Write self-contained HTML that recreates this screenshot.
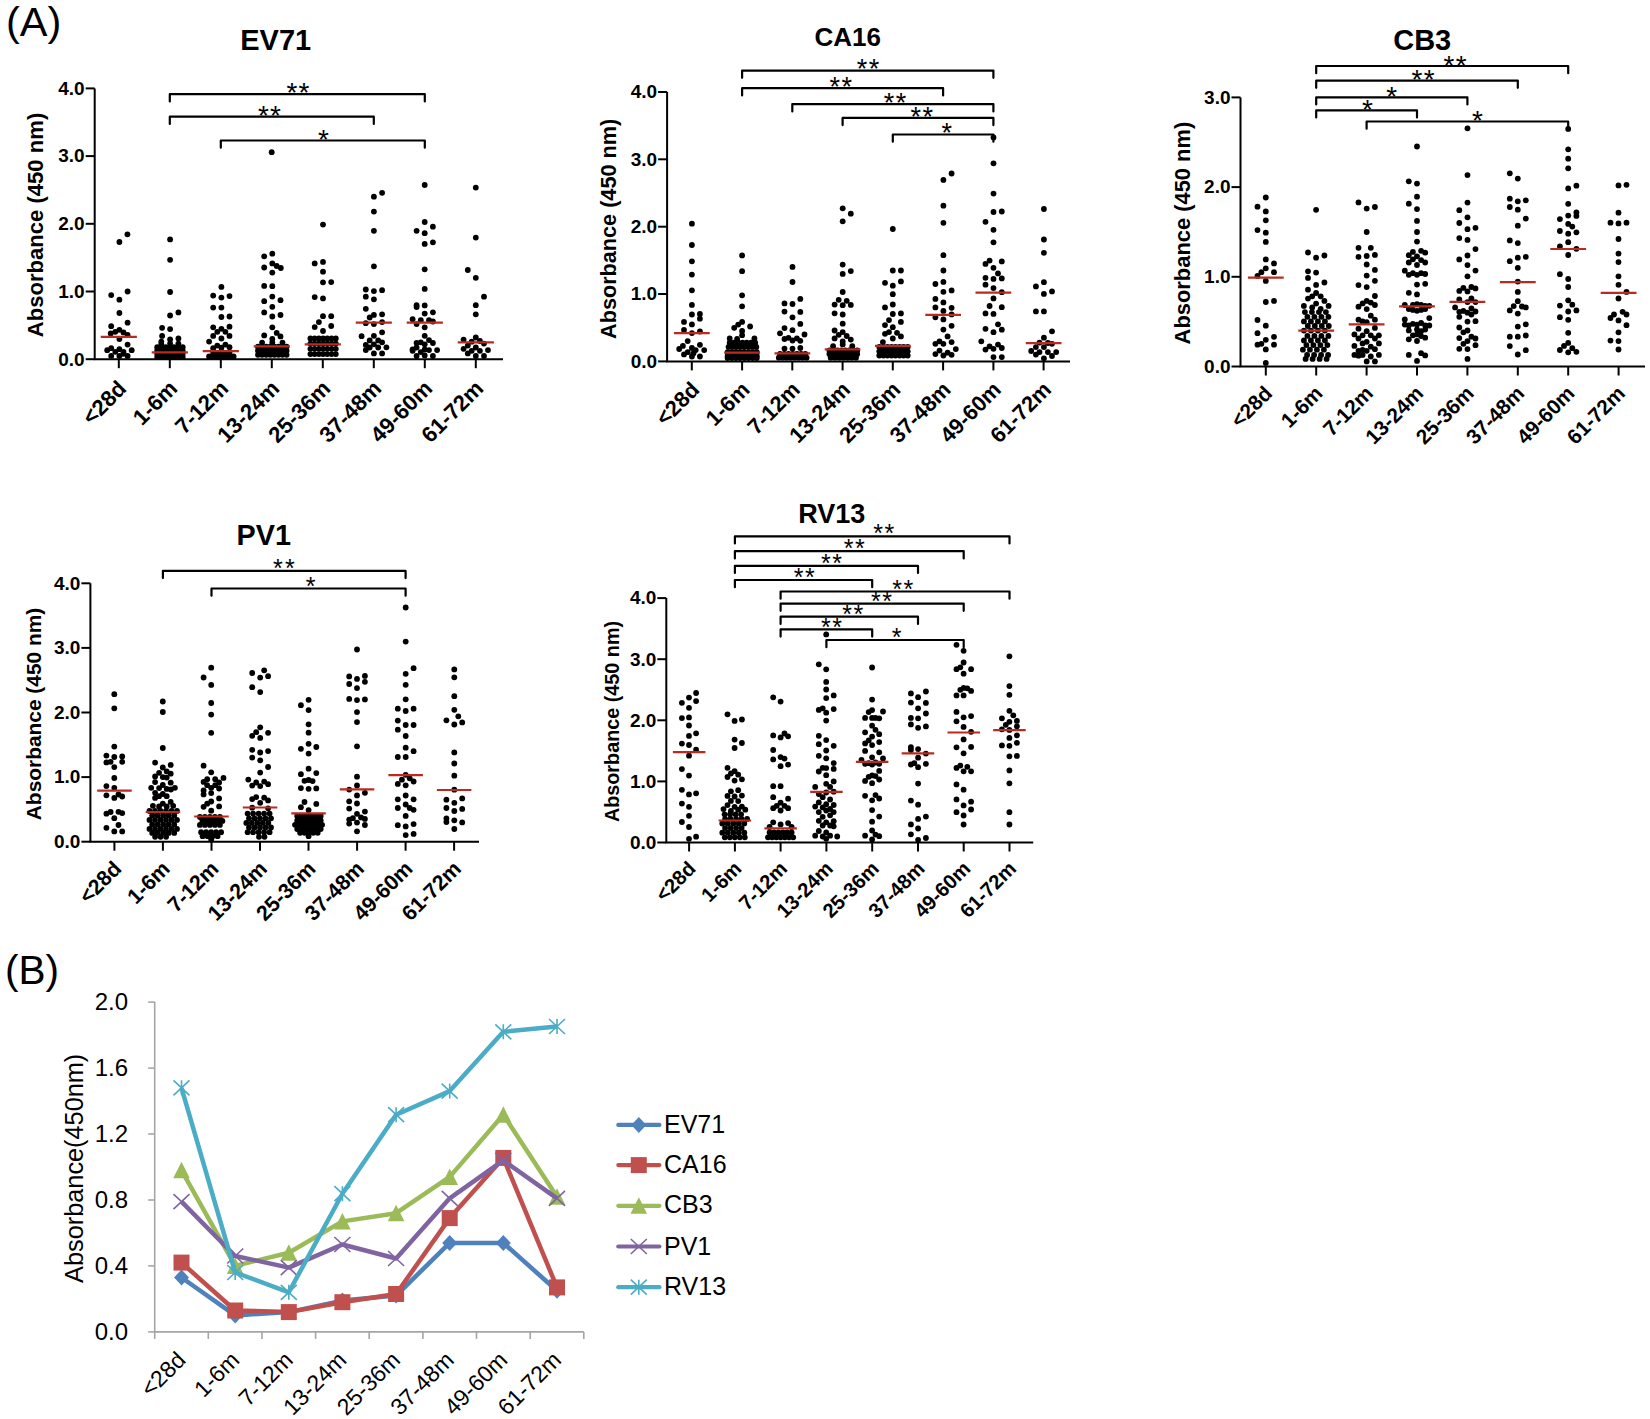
<!DOCTYPE html><html><head><meta charset="utf-8"><style>html,body{margin:0;padding:0;background:#fff;}svg{display:block}</style></head><body>
<svg width="1650" height="1419" viewBox="0 0 1650 1419">
<rect width="100%" height="100%" fill="#fff"/>
<text x="6" y="36" font-family="Liberation Sans, Arial, sans-serif" font-size="41.5">(A)</text>
<g><text x="275.75" y="49.8" font-family="Liberation Sans, Arial, sans-serif" font-weight="bold" font-size="29" text-anchor="middle">EV71</text><path d="M94.7 88.4V359.2H503" fill="none" stroke="#000" stroke-width="2"/><path d="M85.7 359.2H94.7" stroke="#000" stroke-width="2"/><text x="84.7" y="365.5" font-family="Liberation Sans, Arial, sans-serif" font-weight="bold" font-size="19" text-anchor="end">0.0</text><path d="M85.7 291.5H94.7" stroke="#000" stroke-width="2"/><text x="84.7" y="297.8" font-family="Liberation Sans, Arial, sans-serif" font-weight="bold" font-size="19" text-anchor="end">1.0</text><path d="M85.7 223.8H94.7" stroke="#000" stroke-width="2"/><text x="84.7" y="230.1" font-family="Liberation Sans, Arial, sans-serif" font-weight="bold" font-size="19" text-anchor="end">2.0</text><path d="M85.7 156.1H94.7" stroke="#000" stroke-width="2"/><text x="84.7" y="162.4" font-family="Liberation Sans, Arial, sans-serif" font-weight="bold" font-size="19" text-anchor="end">3.0</text><path d="M85.7 88.4H94.7" stroke="#000" stroke-width="2"/><text x="84.7" y="94.7" font-family="Liberation Sans, Arial, sans-serif" font-weight="bold" font-size="19" text-anchor="end">4.0</text><path d="M118.8 359.2v9" stroke="#000" stroke-width="2"/><text transform="translate(127.7,389.9) rotate(-45)" font-family="Liberation Sans, Arial, sans-serif" font-weight="bold" font-size="22.2" text-anchor="end">&lt;28d</text><path d="M169.8 359.2v9" stroke="#000" stroke-width="2"/><text transform="translate(178.7,389.9) rotate(-45)" font-family="Liberation Sans, Arial, sans-serif" font-weight="bold" font-size="22.2" text-anchor="end">1-6m</text><path d="M220.8 359.2v9" stroke="#000" stroke-width="2"/><text transform="translate(229.7,389.9) rotate(-45)" font-family="Liberation Sans, Arial, sans-serif" font-weight="bold" font-size="22.2" text-anchor="end">7-12m</text><path d="M271.8 359.2v9" stroke="#000" stroke-width="2"/><text transform="translate(280.7,389.9) rotate(-45)" font-family="Liberation Sans, Arial, sans-serif" font-weight="bold" font-size="22.2" text-anchor="end">13-24m</text><path d="M322.8 359.2v9" stroke="#000" stroke-width="2"/><text transform="translate(331.7,389.9) rotate(-45)" font-family="Liberation Sans, Arial, sans-serif" font-weight="bold" font-size="22.2" text-anchor="end">25-36m</text><path d="M373.8 359.2v9" stroke="#000" stroke-width="2"/><text transform="translate(382.7,389.9) rotate(-45)" font-family="Liberation Sans, Arial, sans-serif" font-weight="bold" font-size="22.2" text-anchor="end">37-48m</text><path d="M424.8 359.2v9" stroke="#000" stroke-width="2"/><text transform="translate(433.7,389.9) rotate(-45)" font-family="Liberation Sans, Arial, sans-serif" font-weight="bold" font-size="22.2" text-anchor="end">49-60m</text><path d="M475.8 359.2v9" stroke="#000" stroke-width="2"/><text transform="translate(484.7,389.9) rotate(-45)" font-family="Liberation Sans, Arial, sans-serif" font-weight="bold" font-size="22.2" text-anchor="end">61-72m</text><text transform="translate(42.7,225.0) rotate(-90)" font-family="Liberation Sans, Arial, sans-serif" font-weight="bold" font-size="22.08" text-anchor="middle">Absorbance (450 nm)</text><path d="M169.8 101.4V94.2H424.8V101.4" fill="none" stroke="#000" stroke-width="2.2" stroke-linecap="round" stroke-linejoin="round"/><text x="298.6" y="102.3" font-family="Liberation Sans, Arial, sans-serif" font-size="28" letter-spacing="1.2" text-anchor="middle">**</text><path d="M169.8 123.9V116.7H373.8V123.9" fill="none" stroke="#000" stroke-width="2.2" stroke-linecap="round" stroke-linejoin="round"/><text x="270.1" y="124.8" font-family="Liberation Sans, Arial, sans-serif" font-size="28" letter-spacing="1.2" text-anchor="middle">**</text><path d="M220.8 147.7V140.5H424.8V147.7" fill="none" stroke="#000" stroke-width="2.2" stroke-linecap="round" stroke-linejoin="round"/><text x="324.0" y="148.6" font-family="Liberation Sans, Arial, sans-serif" font-size="28" letter-spacing="1.2" text-anchor="middle">*</text><g fill="#000"><circle cx="127.4" cy="234.3" r="2.9"/><circle cx="119.4" cy="242.0" r="2.9"/><circle cx="127.6" cy="291.5" r="2.9"/><circle cx="111.2" cy="295.1" r="2.9"/><circle cx="119.4" cy="299.7" r="2.9"/><circle cx="119.4" cy="313.0" r="2.9"/><circle cx="127.6" cy="322.7" r="2.9"/><circle cx="111.2" cy="326.2" r="2.9"/><circle cx="119.4" cy="329.8" r="2.9"/><circle cx="115.3" cy="331.8" r="2.9"/><circle cx="110.7" cy="333.4" r="2.9"/><circle cx="123.5" cy="332.4" r="2.9"/><circle cx="127.6" cy="334.9" r="2.9"/><circle cx="119.4" cy="339.0" r="2.9"/><circle cx="127.6" cy="344.6" r="2.9"/><circle cx="111.2" cy="348.2" r="2.9"/><circle cx="107.2" cy="350.2" r="2.9"/><circle cx="119.4" cy="349.2" r="2.9"/><circle cx="131.7" cy="350.2" r="2.9"/><circle cx="115.3" cy="351.8" r="2.9"/><circle cx="123.5" cy="351.8" r="2.9"/><circle cx="111.2" cy="355.9" r="2.9"/><circle cx="119.4" cy="355.9" r="2.9"/><circle cx="127.6" cy="355.9" r="2.9"/><circle cx="123.5" cy="353.8" r="2.9"/><circle cx="170.1" cy="239.4" r="2.9"/><circle cx="170.1" cy="259.8" r="2.9"/><circle cx="170.1" cy="292.0" r="2.9"/><circle cx="178.4" cy="312.4" r="2.9"/><circle cx="170.1" cy="315.5" r="2.9"/><circle cx="162.1" cy="327.8" r="2.9"/><circle cx="170.1" cy="329.1" r="2.9"/><circle cx="162.1" cy="335.9" r="2.9"/><circle cx="161.3" cy="341.6" r="2.9"/><circle cx="170.1" cy="339.5" r="2.9"/><circle cx="178.4" cy="338.5" r="2.9"/><circle cx="161.3" cy="344.1" r="2.9"/><circle cx="170.1" cy="343.6" r="2.9"/><circle cx="178.4" cy="343.6" r="2.9"/><circle cx="157.2" cy="347.2" r="2.9"/><circle cx="161.5" cy="347.2" r="2.9"/><circle cx="165.7" cy="347.2" r="2.9"/><circle cx="170.0" cy="347.2" r="2.9"/><circle cx="174.2" cy="347.2" r="2.9"/><circle cx="178.5" cy="347.2" r="2.9"/><circle cx="182.7" cy="347.2" r="2.9"/><circle cx="157.2" cy="350.7" r="2.9"/><circle cx="161.5" cy="350.7" r="2.9"/><circle cx="165.7" cy="350.7" r="2.9"/><circle cx="170.0" cy="350.7" r="2.9"/><circle cx="174.2" cy="350.7" r="2.9"/><circle cx="178.5" cy="350.7" r="2.9"/><circle cx="182.7" cy="350.7" r="2.9"/><circle cx="157.2" cy="353.8" r="2.9"/><circle cx="161.5" cy="353.8" r="2.9"/><circle cx="165.7" cy="353.8" r="2.9"/><circle cx="170.0" cy="353.8" r="2.9"/><circle cx="174.2" cy="353.8" r="2.9"/><circle cx="178.5" cy="353.8" r="2.9"/><circle cx="182.7" cy="353.8" r="2.9"/><circle cx="157.2" cy="356.9" r="2.9"/><circle cx="161.5" cy="356.9" r="2.9"/><circle cx="165.7" cy="356.9" r="2.9"/><circle cx="170.0" cy="356.9" r="2.9"/><circle cx="174.2" cy="356.9" r="2.9"/><circle cx="178.5" cy="356.9" r="2.9"/><circle cx="182.7" cy="356.9" r="2.9"/><circle cx="221.4" cy="286.9" r="2.9"/><circle cx="213.2" cy="295.6" r="2.9"/><circle cx="221.4" cy="297.6" r="2.9"/><circle cx="229.5" cy="296.1" r="2.9"/><circle cx="213.2" cy="307.6" r="2.9"/><circle cx="221.4" cy="307.6" r="2.9"/><circle cx="221.4" cy="317.0" r="2.9"/><circle cx="229.5" cy="316.5" r="2.9"/><circle cx="213.2" cy="327.3" r="2.9"/><circle cx="221.4" cy="328.8" r="2.9"/><circle cx="229.5" cy="326.7" r="2.9"/><circle cx="217.3" cy="331.8" r="2.9"/><circle cx="225.4" cy="331.8" r="2.9"/><circle cx="213.2" cy="335.9" r="2.9"/><circle cx="229.5" cy="335.9" r="2.9"/><circle cx="221.4" cy="338.5" r="2.9"/><circle cx="209.1" cy="341.6" r="2.9"/><circle cx="217.3" cy="345.6" r="2.9"/><circle cx="225.4" cy="344.6" r="2.9"/><circle cx="213.2" cy="348.2" r="2.9"/><circle cx="221.4" cy="347.7" r="2.9"/><circle cx="229.5" cy="347.2" r="2.9"/><circle cx="213.2" cy="352.8" r="2.9"/><circle cx="217.3" cy="352.8" r="2.9"/><circle cx="221.4" cy="352.8" r="2.9"/><circle cx="225.4" cy="352.8" r="2.9"/><circle cx="229.5" cy="352.8" r="2.9"/><circle cx="209.1" cy="356.4" r="2.9"/><circle cx="213.2" cy="356.4" r="2.9"/><circle cx="217.3" cy="356.4" r="2.9"/><circle cx="221.4" cy="356.4" r="2.9"/><circle cx="225.4" cy="356.4" r="2.9"/><circle cx="229.5" cy="356.4" r="2.9"/><circle cx="233.6" cy="356.4" r="2.9"/><circle cx="272.3" cy="253.7" r="2.9"/><circle cx="264.2" cy="256.3" r="2.9"/><circle cx="272.3" cy="263.4" r="2.9"/><circle cx="276.7" cy="266.0" r="2.9"/><circle cx="280.8" cy="268.0" r="2.9"/><circle cx="264.2" cy="267.5" r="2.9"/><circle cx="272.3" cy="272.6" r="2.9"/><circle cx="264.2" cy="285.9" r="2.9"/><circle cx="272.3" cy="286.2" r="2.9"/><circle cx="272.3" cy="296.6" r="2.9"/><circle cx="264.2" cy="301.2" r="2.9"/><circle cx="280.5" cy="300.2" r="2.9"/><circle cx="272.3" cy="306.8" r="2.9"/><circle cx="264.2" cy="312.4" r="2.9"/><circle cx="280.5" cy="315.0" r="2.9"/><circle cx="272.3" cy="316.5" r="2.9"/><circle cx="272.3" cy="327.3" r="2.9"/><circle cx="276.7" cy="332.9" r="2.9"/><circle cx="280.5" cy="336.4" r="2.9"/><circle cx="264.2" cy="335.4" r="2.9"/><circle cx="272.3" cy="339.0" r="2.9"/><circle cx="262.1" cy="342.6" r="2.9"/><circle cx="272.3" cy="342.6" r="2.9"/><circle cx="282.5" cy="342.6" r="2.9"/><circle cx="258.0" cy="346.7" r="2.9"/><circle cx="262.1" cy="346.7" r="2.9"/><circle cx="266.2" cy="346.7" r="2.9"/><circle cx="270.3" cy="346.7" r="2.9"/><circle cx="274.4" cy="346.7" r="2.9"/><circle cx="278.5" cy="346.7" r="2.9"/><circle cx="282.5" cy="346.7" r="2.9"/><circle cx="286.6" cy="346.7" r="2.9"/><circle cx="258.0" cy="350.7" r="2.9"/><circle cx="262.1" cy="350.7" r="2.9"/><circle cx="266.2" cy="350.7" r="2.9"/><circle cx="270.3" cy="350.7" r="2.9"/><circle cx="274.4" cy="350.7" r="2.9"/><circle cx="278.5" cy="350.7" r="2.9"/><circle cx="282.5" cy="350.7" r="2.9"/><circle cx="286.6" cy="350.7" r="2.9"/><circle cx="258.0" cy="354.8" r="2.9"/><circle cx="262.1" cy="354.8" r="2.9"/><circle cx="266.2" cy="354.8" r="2.9"/><circle cx="270.3" cy="354.8" r="2.9"/><circle cx="274.4" cy="354.8" r="2.9"/><circle cx="278.5" cy="354.8" r="2.9"/><circle cx="282.5" cy="354.8" r="2.9"/><circle cx="286.6" cy="354.8" r="2.9"/><circle cx="271.7" cy="152.2" r="2.9"/><circle cx="323.0" cy="224.6" r="2.9"/><circle cx="314.7" cy="263.4" r="2.9"/><circle cx="323.0" cy="261.9" r="2.9"/><circle cx="323.0" cy="271.7" r="2.9"/><circle cx="323.0" cy="282.3" r="2.9"/><circle cx="331.2" cy="282.1" r="2.9"/><circle cx="314.7" cy="297.1" r="2.9"/><circle cx="323.0" cy="298.4" r="2.9"/><circle cx="323.0" cy="316.2" r="2.9"/><circle cx="331.2" cy="316.2" r="2.9"/><circle cx="318.9" cy="322.1" r="2.9"/><circle cx="314.7" cy="327.1" r="2.9"/><circle cx="331.2" cy="326.0" r="2.9"/><circle cx="323.0" cy="331.0" r="2.9"/><circle cx="310.4" cy="338.4" r="2.9"/><circle cx="314.6" cy="338.4" r="2.9"/><circle cx="318.9" cy="338.4" r="2.9"/><circle cx="323.1" cy="338.4" r="2.9"/><circle cx="327.3" cy="338.4" r="2.9"/><circle cx="331.6" cy="338.4" r="2.9"/><circle cx="335.8" cy="338.4" r="2.9"/><circle cx="310.4" cy="343.6" r="2.9"/><circle cx="314.6" cy="343.6" r="2.9"/><circle cx="318.9" cy="343.6" r="2.9"/><circle cx="323.1" cy="343.6" r="2.9"/><circle cx="327.3" cy="343.6" r="2.9"/><circle cx="331.6" cy="343.6" r="2.9"/><circle cx="335.8" cy="343.6" r="2.9"/><circle cx="310.4" cy="348.8" r="2.9"/><circle cx="314.6" cy="348.8" r="2.9"/><circle cx="318.9" cy="348.8" r="2.9"/><circle cx="323.1" cy="348.8" r="2.9"/><circle cx="327.3" cy="348.8" r="2.9"/><circle cx="331.6" cy="348.8" r="2.9"/><circle cx="335.8" cy="348.8" r="2.9"/><circle cx="310.4" cy="354.1" r="2.9"/><circle cx="314.6" cy="354.1" r="2.9"/><circle cx="318.9" cy="354.1" r="2.9"/><circle cx="323.1" cy="354.1" r="2.9"/><circle cx="327.3" cy="354.1" r="2.9"/><circle cx="331.6" cy="354.1" r="2.9"/><circle cx="335.8" cy="354.1" r="2.9"/><circle cx="382.1" cy="192.8" r="2.9"/><circle cx="373.9" cy="196.7" r="2.9"/><circle cx="373.9" cy="211.6" r="2.9"/><circle cx="373.9" cy="230.8" r="2.9"/><circle cx="373.9" cy="266.3" r="2.9"/><circle cx="365.8" cy="289.5" r="2.9"/><circle cx="373.9" cy="291.1" r="2.9"/><circle cx="382.1" cy="290.2" r="2.9"/><circle cx="365.8" cy="296.7" r="2.9"/><circle cx="373.9" cy="299.3" r="2.9"/><circle cx="365.8" cy="308.8" r="2.9"/><circle cx="373.9" cy="314.9" r="2.9"/><circle cx="369.7" cy="317.5" r="2.9"/><circle cx="382.1" cy="314.3" r="2.9"/><circle cx="365.8" cy="323.2" r="2.9"/><circle cx="373.9" cy="324.1" r="2.9"/><circle cx="382.1" cy="322.1" r="2.9"/><circle cx="382.1" cy="332.3" r="2.9"/><circle cx="361.6" cy="336.2" r="2.9"/><circle cx="373.9" cy="335.8" r="2.9"/><circle cx="369.7" cy="340.4" r="2.9"/><circle cx="378.2" cy="340.4" r="2.9"/><circle cx="382.1" cy="342.3" r="2.9"/><circle cx="365.8" cy="344.9" r="2.9"/><circle cx="373.9" cy="344.3" r="2.9"/><circle cx="386.4" cy="347.3" r="2.9"/><circle cx="378.2" cy="347.5" r="2.9"/><circle cx="369.7" cy="347.5" r="2.9"/><circle cx="365.8" cy="350.1" r="2.9"/><circle cx="373.9" cy="353.4" r="2.9"/><circle cx="382.1" cy="353.4" r="2.9"/><circle cx="424.7" cy="185.0" r="2.9"/><circle cx="424.7" cy="222.0" r="2.9"/><circle cx="432.9" cy="226.7" r="2.9"/><circle cx="416.6" cy="230.8" r="2.9"/><circle cx="424.7" cy="233.2" r="2.9"/><circle cx="424.7" cy="243.9" r="2.9"/><circle cx="432.9" cy="242.3" r="2.9"/><circle cx="424.7" cy="269.3" r="2.9"/><circle cx="424.7" cy="288.9" r="2.9"/><circle cx="416.6" cy="305.2" r="2.9"/><circle cx="416.6" cy="307.1" r="2.9"/><circle cx="424.7" cy="305.4" r="2.9"/><circle cx="424.7" cy="313.6" r="2.9"/><circle cx="432.9" cy="312.3" r="2.9"/><circle cx="412.6" cy="319.2" r="2.9"/><circle cx="420.8" cy="320.2" r="2.9"/><circle cx="429.0" cy="320.2" r="2.9"/><circle cx="416.6" cy="324.1" r="2.9"/><circle cx="432.9" cy="321.5" r="2.9"/><circle cx="424.7" cy="327.3" r="2.9"/><circle cx="424.7" cy="335.8" r="2.9"/><circle cx="416.6" cy="343.0" r="2.9"/><circle cx="420.8" cy="342.3" r="2.9"/><circle cx="429.0" cy="340.1" r="2.9"/><circle cx="432.9" cy="343.0" r="2.9"/><circle cx="424.7" cy="344.3" r="2.9"/><circle cx="412.6" cy="349.5" r="2.9"/><circle cx="416.6" cy="347.5" r="2.9"/><circle cx="424.7" cy="349.5" r="2.9"/><circle cx="429.0" cy="350.1" r="2.9"/><circle cx="437.1" cy="350.1" r="2.9"/><circle cx="416.6" cy="356.0" r="2.9"/><circle cx="424.7" cy="355.4" r="2.9"/><circle cx="432.9" cy="356.0" r="2.9"/><circle cx="420.8" cy="352.1" r="2.9"/><circle cx="412.6" cy="350.8" r="2.9"/><circle cx="475.8" cy="187.6" r="2.9"/><circle cx="475.8" cy="237.6" r="2.9"/><circle cx="467.8" cy="270.0" r="2.9"/><circle cx="475.8" cy="277.8" r="2.9"/><circle cx="484.0" cy="296.7" r="2.9"/><circle cx="475.8" cy="305.2" r="2.9"/><circle cx="475.8" cy="314.3" r="2.9"/><circle cx="463.6" cy="339.7" r="2.9"/><circle cx="475.8" cy="337.5" r="2.9"/><circle cx="471.7" cy="341.7" r="2.9"/><circle cx="479.9" cy="341.0" r="2.9"/><circle cx="484.0" cy="343.6" r="2.9"/><circle cx="467.8" cy="345.6" r="2.9"/><circle cx="463.6" cy="348.8" r="2.9"/><circle cx="475.8" cy="347.5" r="2.9"/><circle cx="479.9" cy="350.8" r="2.9"/><circle cx="488.0" cy="350.1" r="2.9"/><circle cx="467.8" cy="353.4" r="2.9"/><circle cx="475.8" cy="356.0" r="2.9"/><circle cx="484.0" cy="356.0" r="2.9"/><circle cx="471.7" cy="350.8" r="2.9"/></g><path d="M100.7 336.9h36.2" stroke="#bb2a20" stroke-width="2.2"/><path d="M151.7 352.4h36.2" stroke="#bb2a20" stroke-width="2.2"/><path d="M202.7 351.1h36.2" stroke="#bb2a20" stroke-width="2.2"/><path d="M253.7 346.3h36.2" stroke="#bb2a20" stroke-width="2.2"/><path d="M304.7 344.3h36.2" stroke="#bb2a20" stroke-width="2.2"/><path d="M355.7 322.6h36.2" stroke="#bb2a20" stroke-width="2.2"/><path d="M406.7 322.6h36.2" stroke="#bb2a20" stroke-width="2.2"/><path d="M457.7 342.3h36.2" stroke="#bb2a20" stroke-width="2.2"/></g>
<g><text x="847.7" y="46" font-family="Liberation Sans, Arial, sans-serif" font-weight="bold" font-size="26" text-anchor="middle">CA16</text><path d="M667.1 92.0V361.4H1070" fill="none" stroke="#000" stroke-width="2"/><path d="M658.1 361.4H667.1" stroke="#000" stroke-width="2"/><text x="657.1" y="367.7" font-family="Liberation Sans, Arial, sans-serif" font-weight="bold" font-size="19" text-anchor="end">0.0</text><path d="M658.1 294.0H667.1" stroke="#000" stroke-width="2"/><text x="657.1" y="300.3" font-family="Liberation Sans, Arial, sans-serif" font-weight="bold" font-size="19" text-anchor="end">1.0</text><path d="M658.1 226.7H667.1" stroke="#000" stroke-width="2"/><text x="657.1" y="233.0" font-family="Liberation Sans, Arial, sans-serif" font-weight="bold" font-size="19" text-anchor="end">2.0</text><path d="M658.1 159.3H667.1" stroke="#000" stroke-width="2"/><text x="657.1" y="165.7" font-family="Liberation Sans, Arial, sans-serif" font-weight="bold" font-size="19" text-anchor="end">3.0</text><path d="M658.1 92.0H667.1" stroke="#000" stroke-width="2"/><text x="657.1" y="98.3" font-family="Liberation Sans, Arial, sans-serif" font-weight="bold" font-size="19" text-anchor="end">4.0</text><path d="M691.8 361.4v9" stroke="#000" stroke-width="2"/><text transform="translate(700.7,391.0) rotate(-45)" font-family="Liberation Sans, Arial, sans-serif" font-weight="bold" font-size="21.9" text-anchor="end">&lt;28d</text><path d="M742.1 361.4v9" stroke="#000" stroke-width="2"/><text transform="translate(751.0,391.0) rotate(-45)" font-family="Liberation Sans, Arial, sans-serif" font-weight="bold" font-size="21.9" text-anchor="end">1-6m</text><path d="M792.3 361.4v9" stroke="#000" stroke-width="2"/><text transform="translate(801.2,391.0) rotate(-45)" font-family="Liberation Sans, Arial, sans-serif" font-weight="bold" font-size="21.9" text-anchor="end">7-12m</text><path d="M842.6 361.4v9" stroke="#000" stroke-width="2"/><text transform="translate(851.5,391.0) rotate(-45)" font-family="Liberation Sans, Arial, sans-serif" font-weight="bold" font-size="21.9" text-anchor="end">13-24m</text><path d="M892.8 361.4v9" stroke="#000" stroke-width="2"/><text transform="translate(901.7,391.0) rotate(-45)" font-family="Liberation Sans, Arial, sans-serif" font-weight="bold" font-size="21.9" text-anchor="end">25-36m</text><path d="M943.1 361.4v9" stroke="#000" stroke-width="2"/><text transform="translate(952.0,391.0) rotate(-45)" font-family="Liberation Sans, Arial, sans-serif" font-weight="bold" font-size="21.9" text-anchor="end">37-48m</text><path d="M993.4 361.4v9" stroke="#000" stroke-width="2"/><text transform="translate(1002.3,391.0) rotate(-45)" font-family="Liberation Sans, Arial, sans-serif" font-weight="bold" font-size="21.9" text-anchor="end">49-60m</text><path d="M1043.6 361.4v9" stroke="#000" stroke-width="2"/><text transform="translate(1052.5,391.0) rotate(-45)" font-family="Liberation Sans, Arial, sans-serif" font-weight="bold" font-size="21.9" text-anchor="end">61-72m</text><text transform="translate(616.3,228.9) rotate(-90)" font-family="Liberation Sans, Arial, sans-serif" font-weight="bold" font-size="21.65" text-anchor="middle">Absorbance (450 nm)</text><path d="M742.1 77.8V70.6H993.4V77.8" fill="none" stroke="#000" stroke-width="2.2" stroke-linecap="round" stroke-linejoin="round"/><text x="868.8" y="78.4" font-family="Liberation Sans, Arial, sans-serif" font-size="27" letter-spacing="1.5" text-anchor="middle">**</text><path d="M742.1 95.4V88.2H943.1V95.4" fill="none" stroke="#000" stroke-width="2.2" stroke-linecap="round" stroke-linejoin="round"/><text x="841.4" y="96.0" font-family="Liberation Sans, Arial, sans-serif" font-size="27" letter-spacing="1.5" text-anchor="middle">**</text><path d="M792.3 111.4V104.2H993.4V111.4" fill="none" stroke="#000" stroke-width="2.2" stroke-linecap="round" stroke-linejoin="round"/><text x="895.8" y="112.0" font-family="Liberation Sans, Arial, sans-serif" font-size="27" letter-spacing="1.5" text-anchor="middle">**</text><path d="M842.6 125.1V117.9H993.4V125.1" fill="none" stroke="#000" stroke-width="2.2" stroke-linecap="round" stroke-linejoin="round"/><text x="922.5" y="125.7" font-family="Liberation Sans, Arial, sans-serif" font-size="27" letter-spacing="1.5" text-anchor="middle">**</text><path d="M892.8 141.7V134.5H993.4V141.7" fill="none" stroke="#000" stroke-width="2.2" stroke-linecap="round" stroke-linejoin="round"/><text x="947.5" y="142.3" font-family="Liberation Sans, Arial, sans-serif" font-size="27" letter-spacing="1.5" text-anchor="middle">*</text><g fill="#000"><circle cx="691.9" cy="223.7" r="2.9"/><circle cx="691.9" cy="245.0" r="2.9"/><circle cx="691.9" cy="261.3" r="2.9"/><circle cx="691.9" cy="274.6" r="2.9"/><circle cx="691.9" cy="290.3" r="2.9"/><circle cx="691.9" cy="304.9" r="2.9"/><circle cx="691.9" cy="314.5" r="2.9"/><circle cx="699.9" cy="313.9" r="2.9"/><circle cx="699.9" cy="318.7" r="2.9"/><circle cx="684.0" cy="321.9" r="2.9"/><circle cx="691.9" cy="324.4" r="2.9"/><circle cx="684.0" cy="329.9" r="2.9"/><circle cx="691.9" cy="333.1" r="2.9"/><circle cx="699.9" cy="331.5" r="2.9"/><circle cx="687.7" cy="341.1" r="2.9"/><circle cx="699.9" cy="344.8" r="2.9"/><circle cx="682.9" cy="345.9" r="2.9"/><circle cx="679.2" cy="349.0" r="2.9"/><circle cx="691.9" cy="348.0" r="2.9"/><circle cx="695.7" cy="350.1" r="2.9"/><circle cx="704.2" cy="350.1" r="2.9"/><circle cx="684.0" cy="354.4" r="2.9"/><circle cx="691.9" cy="356.5" r="2.9"/><circle cx="699.9" cy="356.5" r="2.9"/><circle cx="687.7" cy="352.2" r="2.9"/><circle cx="693.5" cy="353.3" r="2.9"/><circle cx="742.1" cy="255.4" r="2.9"/><circle cx="742.1" cy="271.2" r="2.9"/><circle cx="742.1" cy="295.3" r="2.9"/><circle cx="742.1" cy="306.3" r="2.9"/><circle cx="742.1" cy="321.9" r="2.9"/><circle cx="738.2" cy="324.6" r="2.9"/><circle cx="734.2" cy="327.8" r="2.9"/><circle cx="750.1" cy="326.5" r="2.9"/><circle cx="742.1" cy="331.0" r="2.9"/><circle cx="742.1" cy="335.2" r="2.9"/><circle cx="729.7" cy="338.4" r="2.9"/><circle cx="754.4" cy="338.4" r="2.9"/><circle cx="737.1" cy="338.9" r="2.9"/><circle cx="729.7" cy="342.7" r="2.9"/><circle cx="734.0" cy="342.7" r="2.9"/><circle cx="738.2" cy="342.7" r="2.9"/><circle cx="742.5" cy="342.7" r="2.9"/><circle cx="746.7" cy="342.7" r="2.9"/><circle cx="751.0" cy="342.7" r="2.9"/><circle cx="755.2" cy="342.7" r="2.9"/><circle cx="728.6" cy="346.9" r="2.9"/><circle cx="732.6" cy="346.9" r="2.9"/><circle cx="736.5" cy="346.9" r="2.9"/><circle cx="740.5" cy="346.9" r="2.9"/><circle cx="744.4" cy="346.9" r="2.9"/><circle cx="748.4" cy="346.9" r="2.9"/><circle cx="752.3" cy="346.9" r="2.9"/><circle cx="756.3" cy="346.9" r="2.9"/><circle cx="727.6" cy="352.2" r="2.9"/><circle cx="731.8" cy="352.2" r="2.9"/><circle cx="735.9" cy="352.2" r="2.9"/><circle cx="740.1" cy="352.2" r="2.9"/><circle cx="744.3" cy="352.2" r="2.9"/><circle cx="748.5" cy="352.2" r="2.9"/><circle cx="752.7" cy="352.2" r="2.9"/><circle cx="756.8" cy="352.2" r="2.9"/><circle cx="727.6" cy="356.0" r="2.9"/><circle cx="731.8" cy="356.0" r="2.9"/><circle cx="735.9" cy="356.0" r="2.9"/><circle cx="740.1" cy="356.0" r="2.9"/><circle cx="744.3" cy="356.0" r="2.9"/><circle cx="748.5" cy="356.0" r="2.9"/><circle cx="752.7" cy="356.0" r="2.9"/><circle cx="756.8" cy="356.0" r="2.9"/><circle cx="727.6" cy="358.1" r="2.9"/><circle cx="731.8" cy="358.1" r="2.9"/><circle cx="735.9" cy="358.1" r="2.9"/><circle cx="740.1" cy="358.1" r="2.9"/><circle cx="744.3" cy="358.1" r="2.9"/><circle cx="748.5" cy="358.1" r="2.9"/><circle cx="752.7" cy="358.1" r="2.9"/><circle cx="756.8" cy="358.1" r="2.9"/><circle cx="792.5" cy="266.9" r="2.9"/><circle cx="792.5" cy="282.0" r="2.9"/><circle cx="800.3" cy="298.9" r="2.9"/><circle cx="784.5" cy="303.4" r="2.9"/><circle cx="792.5" cy="304.0" r="2.9"/><circle cx="784.5" cy="311.6" r="2.9"/><circle cx="800.3" cy="311.9" r="2.9"/><circle cx="792.5" cy="317.3" r="2.9"/><circle cx="800.3" cy="323.9" r="2.9"/><circle cx="784.5" cy="328.1" r="2.9"/><circle cx="792.5" cy="330.2" r="2.9"/><circle cx="780.0" cy="333.3" r="2.9"/><circle cx="804.5" cy="334.5" r="2.9"/><circle cx="784.5" cy="339.0" r="2.9"/><circle cx="788.5" cy="337.8" r="2.9"/><circle cx="792.5" cy="340.5" r="2.9"/><circle cx="796.9" cy="338.4" r="2.9"/><circle cx="800.3" cy="340.8" r="2.9"/><circle cx="784.5" cy="348.6" r="2.9"/><circle cx="792.5" cy="348.6" r="2.9"/><circle cx="800.3" cy="348.0" r="2.9"/><circle cx="780.0" cy="354.0" r="2.9"/><circle cx="784.3" cy="354.0" r="2.9"/><circle cx="788.5" cy="354.0" r="2.9"/><circle cx="792.7" cy="354.0" r="2.9"/><circle cx="796.9" cy="354.0" r="2.9"/><circle cx="801.1" cy="354.0" r="2.9"/><circle cx="805.3" cy="354.0" r="2.9"/><circle cx="778.8" cy="357.7" r="2.9"/><circle cx="782.8" cy="357.7" r="2.9"/><circle cx="786.8" cy="357.7" r="2.9"/><circle cx="790.7" cy="357.7" r="2.9"/><circle cx="794.7" cy="357.7" r="2.9"/><circle cx="798.6" cy="357.7" r="2.9"/><circle cx="802.6" cy="357.7" r="2.9"/><circle cx="806.6" cy="357.7" r="2.9"/><circle cx="842.7" cy="208.3" r="2.9"/><circle cx="850.8" cy="213.7" r="2.9"/><circle cx="842.7" cy="221.3" r="2.9"/><circle cx="842.7" cy="264.6" r="2.9"/><circle cx="850.8" cy="271.1" r="2.9"/><circle cx="842.7" cy="273.9" r="2.9"/><circle cx="842.7" cy="292.0" r="2.9"/><circle cx="838.7" cy="299.8" r="2.9"/><circle cx="846.7" cy="300.8" r="2.9"/><circle cx="834.6" cy="304.6" r="2.9"/><circle cx="842.7" cy="305.2" r="2.9"/><circle cx="850.8" cy="304.9" r="2.9"/><circle cx="834.6" cy="313.3" r="2.9"/><circle cx="842.7" cy="314.5" r="2.9"/><circle cx="842.7" cy="323.7" r="2.9"/><circle cx="834.6" cy="330.5" r="2.9"/><circle cx="842.7" cy="332.1" r="2.9"/><circle cx="838.7" cy="334.8" r="2.9"/><circle cx="846.7" cy="336.0" r="2.9"/><circle cx="834.6" cy="338.4" r="2.9"/><circle cx="850.8" cy="339.6" r="2.9"/><circle cx="842.7" cy="341.4" r="2.9"/><circle cx="842.7" cy="344.4" r="2.9"/><circle cx="833.1" cy="346.2" r="2.9"/><circle cx="852.3" cy="346.2" r="2.9"/><circle cx="829.4" cy="350.4" r="2.9"/><circle cx="833.4" cy="350.4" r="2.9"/><circle cx="837.4" cy="350.4" r="2.9"/><circle cx="841.3" cy="350.4" r="2.9"/><circle cx="845.3" cy="350.4" r="2.9"/><circle cx="849.2" cy="350.4" r="2.9"/><circle cx="853.2" cy="350.4" r="2.9"/><circle cx="857.2" cy="350.4" r="2.9"/><circle cx="829.4" cy="354.0" r="2.9"/><circle cx="833.4" cy="354.0" r="2.9"/><circle cx="837.4" cy="354.0" r="2.9"/><circle cx="841.3" cy="354.0" r="2.9"/><circle cx="845.3" cy="354.0" r="2.9"/><circle cx="849.2" cy="354.0" r="2.9"/><circle cx="853.2" cy="354.0" r="2.9"/><circle cx="857.2" cy="354.0" r="2.9"/><circle cx="830.7" cy="357.7" r="2.9"/><circle cx="834.9" cy="357.7" r="2.9"/><circle cx="839.1" cy="357.7" r="2.9"/><circle cx="843.3" cy="357.7" r="2.9"/><circle cx="847.5" cy="357.7" r="2.9"/><circle cx="851.7" cy="357.7" r="2.9"/><circle cx="856.0" cy="357.7" r="2.9"/><circle cx="892.8" cy="229.0" r="2.9"/><circle cx="892.8" cy="270.5" r="2.9"/><circle cx="900.9" cy="270.5" r="2.9"/><circle cx="885.0" cy="282.8" r="2.9"/><circle cx="892.8" cy="285.7" r="2.9"/><circle cx="900.9" cy="281.4" r="2.9"/><circle cx="892.8" cy="294.2" r="2.9"/><circle cx="892.8" cy="304.5" r="2.9"/><circle cx="885.0" cy="307.4" r="2.9"/><circle cx="892.8" cy="314.0" r="2.9"/><circle cx="900.9" cy="313.4" r="2.9"/><circle cx="889.0" cy="320.1" r="2.9"/><circle cx="885.0" cy="325.1" r="2.9"/><circle cx="900.9" cy="321.9" r="2.9"/><circle cx="892.8" cy="327.2" r="2.9"/><circle cx="885.0" cy="333.8" r="2.9"/><circle cx="889.0" cy="332.1" r="2.9"/><circle cx="897.0" cy="332.8" r="2.9"/><circle cx="900.9" cy="336.4" r="2.9"/><circle cx="892.8" cy="338.5" r="2.9"/><circle cx="882.9" cy="342.1" r="2.9"/><circle cx="879.3" cy="347.0" r="2.9"/><circle cx="883.4" cy="347.0" r="2.9"/><circle cx="887.4" cy="347.0" r="2.9"/><circle cx="891.5" cy="347.0" r="2.9"/><circle cx="895.5" cy="347.0" r="2.9"/><circle cx="899.6" cy="347.0" r="2.9"/><circle cx="903.6" cy="347.0" r="2.9"/><circle cx="907.7" cy="347.0" r="2.9"/><circle cx="879.3" cy="351.3" r="2.9"/><circle cx="883.4" cy="351.3" r="2.9"/><circle cx="887.4" cy="351.3" r="2.9"/><circle cx="891.5" cy="351.3" r="2.9"/><circle cx="895.5" cy="351.3" r="2.9"/><circle cx="899.6" cy="351.3" r="2.9"/><circle cx="903.6" cy="351.3" r="2.9"/><circle cx="907.7" cy="351.3" r="2.9"/><circle cx="879.3" cy="355.5" r="2.9"/><circle cx="883.4" cy="355.5" r="2.9"/><circle cx="887.4" cy="355.5" r="2.9"/><circle cx="891.5" cy="355.5" r="2.9"/><circle cx="895.5" cy="355.5" r="2.9"/><circle cx="899.6" cy="355.5" r="2.9"/><circle cx="903.6" cy="355.5" r="2.9"/><circle cx="907.7" cy="355.5" r="2.9"/><circle cx="951.6" cy="173.5" r="2.9"/><circle cx="943.4" cy="179.9" r="2.9"/><circle cx="943.4" cy="205.7" r="2.9"/><circle cx="943.4" cy="222.8" r="2.9"/><circle cx="943.4" cy="255.2" r="2.9"/><circle cx="943.4" cy="270.5" r="2.9"/><circle cx="935.4" cy="284.0" r="2.9"/><circle cx="943.4" cy="281.9" r="2.9"/><circle cx="951.6" cy="290.4" r="2.9"/><circle cx="943.4" cy="291.8" r="2.9"/><circle cx="935.4" cy="298.9" r="2.9"/><circle cx="943.4" cy="302.4" r="2.9"/><circle cx="935.4" cy="307.4" r="2.9"/><circle cx="943.4" cy="310.9" r="2.9"/><circle cx="951.6" cy="307.8" r="2.9"/><circle cx="935.4" cy="317.3" r="2.9"/><circle cx="943.4" cy="319.4" r="2.9"/><circle cx="951.6" cy="314.4" r="2.9"/><circle cx="951.6" cy="325.8" r="2.9"/><circle cx="943.4" cy="329.6" r="2.9"/><circle cx="947.6" cy="336.4" r="2.9"/><circle cx="951.6" cy="342.1" r="2.9"/><circle cx="935.4" cy="343.8" r="2.9"/><circle cx="939.5" cy="341.3" r="2.9"/><circle cx="943.4" cy="343.8" r="2.9"/><circle cx="955.8" cy="349.1" r="2.9"/><circle cx="939.5" cy="350.6" r="2.9"/><circle cx="935.4" cy="354.1" r="2.9"/><circle cx="943.4" cy="355.5" r="2.9"/><circle cx="947.6" cy="352.7" r="2.9"/><circle cx="951.6" cy="354.8" r="2.9"/><circle cx="993.5" cy="137.5" r="2.9"/><circle cx="993.5" cy="163.3" r="2.9"/><circle cx="993.5" cy="193.6" r="2.9"/><circle cx="993.5" cy="212.0" r="2.9"/><circle cx="1001.8" cy="211.5" r="2.9"/><circle cx="985.5" cy="221.8" r="2.9"/><circle cx="993.5" cy="229.8" r="2.9"/><circle cx="993.5" cy="242.3" r="2.9"/><circle cx="989.6" cy="260.6" r="2.9"/><circle cx="985.5" cy="263.9" r="2.9"/><circle cx="1001.8" cy="261.4" r="2.9"/><circle cx="993.5" cy="267.8" r="2.9"/><circle cx="998.0" cy="273.4" r="2.9"/><circle cx="985.5" cy="277.8" r="2.9"/><circle cx="993.5" cy="278.9" r="2.9"/><circle cx="1001.8" cy="278.4" r="2.9"/><circle cx="985.5" cy="284.7" r="2.9"/><circle cx="993.5" cy="288.1" r="2.9"/><circle cx="1001.8" cy="292.2" r="2.9"/><circle cx="993.5" cy="298.4" r="2.9"/><circle cx="989.6" cy="306.0" r="2.9"/><circle cx="1001.8" cy="307.2" r="2.9"/><circle cx="985.5" cy="313.4" r="2.9"/><circle cx="993.5" cy="313.9" r="2.9"/><circle cx="998.0" cy="324.3" r="2.9"/><circle cx="985.5" cy="328.8" r="2.9"/><circle cx="1001.8" cy="329.7" r="2.9"/><circle cx="993.5" cy="332.2" r="2.9"/><circle cx="981.3" cy="341.3" r="2.9"/><circle cx="989.6" cy="346.3" r="2.9"/><circle cx="985.5" cy="349.6" r="2.9"/><circle cx="993.5" cy="348.8" r="2.9"/><circle cx="998.0" cy="344.6" r="2.9"/><circle cx="1001.8" cy="348.0" r="2.9"/><circle cx="993.5" cy="357.1" r="2.9"/><circle cx="1001.8" cy="357.1" r="2.9"/><circle cx="1043.9" cy="209.0" r="2.9"/><circle cx="1043.9" cy="239.5" r="2.9"/><circle cx="1043.9" cy="252.8" r="2.9"/><circle cx="1043.9" cy="282.2" r="2.9"/><circle cx="1035.9" cy="286.4" r="2.9"/><circle cx="1043.9" cy="293.9" r="2.9"/><circle cx="1052.0" cy="291.4" r="2.9"/><circle cx="1035.9" cy="311.4" r="2.9"/><circle cx="1043.9" cy="311.4" r="2.9"/><circle cx="1052.0" cy="331.3" r="2.9"/><circle cx="1043.9" cy="337.7" r="2.9"/><circle cx="1039.5" cy="342.6" r="2.9"/><circle cx="1047.9" cy="343.0" r="2.9"/><circle cx="1035.9" cy="347.1" r="2.9"/><circle cx="1043.9" cy="347.1" r="2.9"/><circle cx="1052.0" cy="343.8" r="2.9"/><circle cx="1031.2" cy="351.0" r="2.9"/><circle cx="1039.5" cy="352.1" r="2.9"/><circle cx="1047.9" cy="352.1" r="2.9"/><circle cx="1056.2" cy="352.1" r="2.9"/><circle cx="1035.9" cy="354.6" r="2.9"/><circle cx="1043.9" cy="358.3" r="2.9"/><circle cx="1052.0" cy="356.0" r="2.9"/></g><path d="M674.0 333.1h35.7" stroke="#bb2a20" stroke-width="2.2"/><path d="M724.2 352.6h35.7" stroke="#bb2a20" stroke-width="2.2"/><path d="M774.5 353.3h35.7" stroke="#bb2a20" stroke-width="2.2"/><path d="M824.7 349.3h35.7" stroke="#bb2a20" stroke-width="2.2"/><path d="M875.0 345.9h35.7" stroke="#bb2a20" stroke-width="2.2"/><path d="M925.3 314.9h35.7" stroke="#bb2a20" stroke-width="2.2"/><path d="M975.5 292.7h35.7" stroke="#bb2a20" stroke-width="2.2"/><path d="M1025.8 343.2h35.7" stroke="#bb2a20" stroke-width="2.2"/></g>
<g><text x="1422.2" y="49.6" font-family="Liberation Sans, Arial, sans-serif" font-weight="bold" font-size="29" text-anchor="middle">CB3</text><path d="M1240.5 97.4V366.5H1645" fill="none" stroke="#000" stroke-width="2"/><path d="M1231.5 366.5H1240.5" stroke="#000" stroke-width="2"/><text x="1230.5" y="372.8" font-family="Liberation Sans, Arial, sans-serif" font-weight="bold" font-size="19" text-anchor="end">0.0</text><path d="M1231.5 276.8H1240.5" stroke="#000" stroke-width="2"/><text x="1230.5" y="283.1" font-family="Liberation Sans, Arial, sans-serif" font-weight="bold" font-size="19" text-anchor="end">1.0</text><path d="M1231.5 187.1H1240.5" stroke="#000" stroke-width="2"/><text x="1230.5" y="193.4" font-family="Liberation Sans, Arial, sans-serif" font-weight="bold" font-size="19" text-anchor="end">2.0</text><path d="M1231.5 97.4H1240.5" stroke="#000" stroke-width="2"/><text x="1230.5" y="103.7" font-family="Liberation Sans, Arial, sans-serif" font-weight="bold" font-size="19" text-anchor="end">3.0</text><path d="M1265.8 366.5v9" stroke="#000" stroke-width="2"/><text transform="translate(1273.5,394.7) rotate(-45)" font-family="Liberation Sans, Arial, sans-serif" font-weight="bold" font-size="20.8" text-anchor="end">&lt;28d</text><path d="M1316.2 366.5v9" stroke="#000" stroke-width="2"/><text transform="translate(1323.9,394.7) rotate(-45)" font-family="Liberation Sans, Arial, sans-serif" font-weight="bold" font-size="20.8" text-anchor="end">1-6m</text><path d="M1366.6 366.5v9" stroke="#000" stroke-width="2"/><text transform="translate(1374.3,394.7) rotate(-45)" font-family="Liberation Sans, Arial, sans-serif" font-weight="bold" font-size="20.8" text-anchor="end">7-12m</text><path d="M1417.0 366.5v9" stroke="#000" stroke-width="2"/><text transform="translate(1424.7,394.7) rotate(-45)" font-family="Liberation Sans, Arial, sans-serif" font-weight="bold" font-size="20.8" text-anchor="end">13-24m</text><path d="M1467.4 366.5v9" stroke="#000" stroke-width="2"/><text transform="translate(1475.1,394.7) rotate(-45)" font-family="Liberation Sans, Arial, sans-serif" font-weight="bold" font-size="20.8" text-anchor="end">25-36m</text><path d="M1517.8 366.5v9" stroke="#000" stroke-width="2"/><text transform="translate(1525.5,394.7) rotate(-45)" font-family="Liberation Sans, Arial, sans-serif" font-weight="bold" font-size="20.8" text-anchor="end">37-48m</text><path d="M1568.2 366.5v9" stroke="#000" stroke-width="2"/><text transform="translate(1575.9,394.7) rotate(-45)" font-family="Liberation Sans, Arial, sans-serif" font-weight="bold" font-size="20.8" text-anchor="end">49-60m</text><path d="M1618.6 366.5v9" stroke="#000" stroke-width="2"/><text transform="translate(1626.3,394.7) rotate(-45)" font-family="Liberation Sans, Arial, sans-serif" font-weight="bold" font-size="20.8" text-anchor="end">61-72m</text><text transform="translate(1190.4,233.1) rotate(-90)" font-family="Liberation Sans, Arial, sans-serif" font-weight="bold" font-size="21.9" text-anchor="middle">Absorbance (450 nm)</text><path d="M1316.2 73.2V66H1568.2V73.2" fill="none" stroke="#000" stroke-width="2.2" stroke-linecap="round" stroke-linejoin="round"/><text x="1455.8" y="74.5" font-family="Liberation Sans, Arial, sans-serif" font-size="28" letter-spacing="1.5" text-anchor="middle">**</text><path d="M1316.2 87.8V80.6H1517.8V87.8" fill="none" stroke="#000" stroke-width="2.2" stroke-linecap="round" stroke-linejoin="round"/><text x="1423.8" y="89.1" font-family="Liberation Sans, Arial, sans-serif" font-size="28" letter-spacing="1.5" text-anchor="middle">**</text><path d="M1316.2 104.5V97.3H1467.4V104.5" fill="none" stroke="#000" stroke-width="2.2" stroke-linecap="round" stroke-linejoin="round"/><text x="1392.5" y="105.8" font-family="Liberation Sans, Arial, sans-serif" font-size="28" letter-spacing="1.5" text-anchor="middle">*</text><path d="M1316.2 117.5V110.3H1417.0V117.5" fill="none" stroke="#000" stroke-width="2.2" stroke-linecap="round" stroke-linejoin="round"/><text x="1368.3" y="118.8" font-family="Liberation Sans, Arial, sans-serif" font-size="28" letter-spacing="1.5" text-anchor="middle">*</text><path d="M1366.6 128.7V121.5H1568.2V128.7" fill="none" stroke="#000" stroke-width="2.2" stroke-linecap="round" stroke-linejoin="round"/><text x="1478.3" y="130.0" font-family="Liberation Sans, Arial, sans-serif" font-size="28" letter-spacing="1.5" text-anchor="middle">*</text><g fill="#000"><circle cx="1265.8" cy="197.5" r="2.9"/><circle cx="1257.5" cy="206.7" r="2.9"/><circle cx="1265.8" cy="211.4" r="2.9"/><circle cx="1265.8" cy="220.3" r="2.9"/><circle cx="1257.5" cy="230.1" r="2.9"/><circle cx="1265.8" cy="232.7" r="2.9"/><circle cx="1265.8" cy="241.9" r="2.9"/><circle cx="1265.8" cy="259.4" r="2.9"/><circle cx="1274.0" cy="263.4" r="2.9"/><circle cx="1265.8" cy="268.3" r="2.9"/><circle cx="1261.4" cy="272.2" r="2.9"/><circle cx="1274.0" cy="272.2" r="2.9"/><circle cx="1257.5" cy="275.9" r="2.9"/><circle cx="1265.8" cy="280.9" r="2.9"/><circle cx="1265.8" cy="302.0" r="2.9"/><circle cx="1274.0" cy="300.9" r="2.9"/><circle cx="1257.5" cy="320.0" r="2.9"/><circle cx="1265.8" cy="325.7" r="2.9"/><circle cx="1257.5" cy="333.2" r="2.9"/><circle cx="1274.0" cy="336.8" r="2.9"/><circle cx="1265.8" cy="339.8" r="2.9"/><circle cx="1257.5" cy="344.7" r="2.9"/><circle cx="1261.4" cy="343.8" r="2.9"/><circle cx="1274.0" cy="344.7" r="2.9"/><circle cx="1265.8" cy="349.4" r="2.9"/><circle cx="1265.8" cy="362.9" r="2.9"/><circle cx="1316.1" cy="209.8" r="2.9"/><circle cx="1308.0" cy="252.5" r="2.9"/><circle cx="1316.1" cy="257.7" r="2.9"/><circle cx="1324.4" cy="255.5" r="2.9"/><circle cx="1308.0" cy="271.3" r="2.9"/><circle cx="1316.1" cy="272.6" r="2.9"/><circle cx="1308.0" cy="277.9" r="2.9"/><circle cx="1324.4" cy="282.5" r="2.9"/><circle cx="1316.1" cy="284.9" r="2.9"/><circle cx="1308.0" cy="289.7" r="2.9"/><circle cx="1316.1" cy="293.0" r="2.9"/><circle cx="1312.2" cy="296.3" r="2.9"/><circle cx="1320.7" cy="296.3" r="2.9"/><circle cx="1308.0" cy="298.6" r="2.9"/><circle cx="1324.4" cy="300.9" r="2.9"/><circle cx="1316.1" cy="303.6" r="2.9"/><circle cx="1303.9" cy="305.9" r="2.9"/><circle cx="1328.6" cy="305.9" r="2.9"/><circle cx="1312.2" cy="307.5" r="2.9"/><circle cx="1320.7" cy="308.8" r="2.9"/><circle cx="1304.9" cy="312.1" r="2.9"/><circle cx="1311.9" cy="312.1" r="2.9"/><circle cx="1318.9" cy="312.1" r="2.9"/><circle cx="1325.9" cy="312.1" r="2.9"/><circle cx="1307.4" cy="316.8" r="2.9"/><circle cx="1314.4" cy="316.8" r="2.9"/><circle cx="1321.4" cy="316.8" r="2.9"/><circle cx="1328.4" cy="316.8" r="2.9"/><circle cx="1303.9" cy="321.4" r="2.9"/><circle cx="1310.9" cy="321.4" r="2.9"/><circle cx="1317.9" cy="321.4" r="2.9"/><circle cx="1324.9" cy="321.4" r="2.9"/><circle cx="1307.8" cy="326.0" r="2.9"/><circle cx="1314.8" cy="326.0" r="2.9"/><circle cx="1321.8" cy="326.0" r="2.9"/><circle cx="1328.8" cy="326.0" r="2.9"/><circle cx="1303.9" cy="330.6" r="2.9"/><circle cx="1310.9" cy="330.6" r="2.9"/><circle cx="1317.9" cy="330.6" r="2.9"/><circle cx="1324.9" cy="330.6" r="2.9"/><circle cx="1307.4" cy="335.9" r="2.9"/><circle cx="1314.4" cy="335.9" r="2.9"/><circle cx="1321.4" cy="335.9" r="2.9"/><circle cx="1328.4" cy="335.9" r="2.9"/><circle cx="1303.9" cy="340.5" r="2.9"/><circle cx="1310.9" cy="340.5" r="2.9"/><circle cx="1317.9" cy="340.5" r="2.9"/><circle cx="1324.9" cy="340.5" r="2.9"/><circle cx="1306.4" cy="345.1" r="2.9"/><circle cx="1313.4" cy="345.1" r="2.9"/><circle cx="1320.4" cy="345.1" r="2.9"/><circle cx="1327.4" cy="345.1" r="2.9"/><circle cx="1302.9" cy="349.7" r="2.9"/><circle cx="1309.9" cy="349.7" r="2.9"/><circle cx="1316.9" cy="349.7" r="2.9"/><circle cx="1323.9" cy="349.7" r="2.9"/><circle cx="1307.1" cy="355.0" r="2.9"/><circle cx="1314.1" cy="355.0" r="2.9"/><circle cx="1321.1" cy="355.0" r="2.9"/><circle cx="1328.1" cy="355.0" r="2.9"/><circle cx="1305.6" cy="358.9" r="2.9"/><circle cx="1312.6" cy="358.9" r="2.9"/><circle cx="1319.6" cy="358.9" r="2.9"/><circle cx="1326.6" cy="358.9" r="2.9"/><circle cx="1358.5" cy="202.4" r="2.9"/><circle cx="1366.7" cy="208.6" r="2.9"/><circle cx="1374.9" cy="207.0" r="2.9"/><circle cx="1366.7" cy="232.0" r="2.9"/><circle cx="1358.5" cy="247.8" r="2.9"/><circle cx="1370.8" cy="247.8" r="2.9"/><circle cx="1358.5" cy="256.8" r="2.9"/><circle cx="1366.7" cy="256.0" r="2.9"/><circle cx="1374.9" cy="254.9" r="2.9"/><circle cx="1366.7" cy="264.5" r="2.9"/><circle cx="1374.9" cy="269.9" r="2.9"/><circle cx="1366.7" cy="275.6" r="2.9"/><circle cx="1374.9" cy="280.8" r="2.9"/><circle cx="1358.5" cy="285.1" r="2.9"/><circle cx="1366.7" cy="287.1" r="2.9"/><circle cx="1374.9" cy="296.0" r="2.9"/><circle cx="1366.7" cy="300.9" r="2.9"/><circle cx="1362.6" cy="303.4" r="2.9"/><circle cx="1358.5" cy="306.7" r="2.9"/><circle cx="1370.8" cy="302.6" r="2.9"/><circle cx="1374.9" cy="305.0" r="2.9"/><circle cx="1366.7" cy="309.1" r="2.9"/><circle cx="1370.8" cy="315.7" r="2.9"/><circle cx="1358.5" cy="319.7" r="2.9"/><circle cx="1374.9" cy="319.7" r="2.9"/><circle cx="1362.6" cy="321.4" r="2.9"/><circle cx="1366.7" cy="322.2" r="2.9"/><circle cx="1358.5" cy="328.7" r="2.9"/><circle cx="1374.9" cy="327.9" r="2.9"/><circle cx="1366.7" cy="331.2" r="2.9"/><circle cx="1354.4" cy="334.4" r="2.9"/><circle cx="1362.6" cy="335.3" r="2.9"/><circle cx="1370.8" cy="335.3" r="2.9"/><circle cx="1378.9" cy="335.3" r="2.9"/><circle cx="1358.5" cy="338.5" r="2.9"/><circle cx="1374.9" cy="338.5" r="2.9"/><circle cx="1366.7" cy="341.8" r="2.9"/><circle cx="1362.6" cy="343.4" r="2.9"/><circle cx="1378.9" cy="343.4" r="2.9"/><circle cx="1354.4" cy="345.9" r="2.9"/><circle cx="1370.8" cy="346.7" r="2.9"/><circle cx="1358.5" cy="350.8" r="2.9"/><circle cx="1362.6" cy="350.0" r="2.9"/><circle cx="1366.7" cy="350.8" r="2.9"/><circle cx="1374.9" cy="349.2" r="2.9"/><circle cx="1354.4" cy="354.9" r="2.9"/><circle cx="1362.6" cy="354.9" r="2.9"/><circle cx="1370.8" cy="356.5" r="2.9"/><circle cx="1378.9" cy="354.9" r="2.9"/><circle cx="1366.7" cy="361.4" r="2.9"/><circle cx="1374.9" cy="361.4" r="2.9"/><circle cx="1358.5" cy="355.7" r="2.9"/><circle cx="1417.0" cy="146.5" r="2.9"/><circle cx="1408.8" cy="181.3" r="2.9"/><circle cx="1417.0" cy="183.6" r="2.9"/><circle cx="1417.0" cy="196.7" r="2.9"/><circle cx="1408.8" cy="203.7" r="2.9"/><circle cx="1417.0" cy="209.1" r="2.9"/><circle cx="1417.0" cy="220.9" r="2.9"/><circle cx="1417.0" cy="232.0" r="2.9"/><circle cx="1417.0" cy="241.6" r="2.9"/><circle cx="1412.9" cy="251.9" r="2.9"/><circle cx="1421.1" cy="250.8" r="2.9"/><circle cx="1425.2" cy="252.7" r="2.9"/><circle cx="1408.8" cy="255.2" r="2.9"/><circle cx="1417.0" cy="256.3" r="2.9"/><circle cx="1412.9" cy="259.3" r="2.9"/><circle cx="1421.1" cy="260.1" r="2.9"/><circle cx="1425.2" cy="262.5" r="2.9"/><circle cx="1408.8" cy="262.5" r="2.9"/><circle cx="1417.0" cy="265.0" r="2.9"/><circle cx="1404.8" cy="270.7" r="2.9"/><circle cx="1408.8" cy="274.8" r="2.9"/><circle cx="1412.9" cy="273.2" r="2.9"/><circle cx="1417.0" cy="274.8" r="2.9"/><circle cx="1421.1" cy="273.2" r="2.9"/><circle cx="1425.2" cy="274.0" r="2.9"/><circle cx="1417.0" cy="284.6" r="2.9"/><circle cx="1425.2" cy="283.8" r="2.9"/><circle cx="1408.8" cy="292.8" r="2.9"/><circle cx="1417.0" cy="294.4" r="2.9"/><circle cx="1404.8" cy="305.0" r="2.9"/><circle cx="1412.9" cy="305.0" r="2.9"/><circle cx="1417.0" cy="304.2" r="2.9"/><circle cx="1421.1" cy="305.0" r="2.9"/><circle cx="1425.2" cy="305.8" r="2.9"/><circle cx="1429.3" cy="305.8" r="2.9"/><circle cx="1408.8" cy="309.1" r="2.9"/><circle cx="1412.9" cy="309.9" r="2.9"/><circle cx="1417.0" cy="310.8" r="2.9"/><circle cx="1421.1" cy="309.9" r="2.9"/><circle cx="1425.2" cy="309.1" r="2.9"/><circle cx="1404.8" cy="319.4" r="2.9"/><circle cx="1429.3" cy="318.1" r="2.9"/><circle cx="1404.8" cy="324.6" r="2.9"/><circle cx="1408.8" cy="325.5" r="2.9"/><circle cx="1412.9" cy="323.8" r="2.9"/><circle cx="1417.0" cy="324.6" r="2.9"/><circle cx="1421.1" cy="323.0" r="2.9"/><circle cx="1425.2" cy="325.5" r="2.9"/><circle cx="1429.3" cy="325.5" r="2.9"/><circle cx="1408.8" cy="330.4" r="2.9"/><circle cx="1417.0" cy="329.5" r="2.9"/><circle cx="1421.1" cy="331.2" r="2.9"/><circle cx="1425.2" cy="329.5" r="2.9"/><circle cx="1412.9" cy="335.3" r="2.9"/><circle cx="1417.0" cy="334.4" r="2.9"/><circle cx="1421.1" cy="336.1" r="2.9"/><circle cx="1408.8" cy="339.3" r="2.9"/><circle cx="1417.0" cy="341.0" r="2.9"/><circle cx="1425.2" cy="337.7" r="2.9"/><circle cx="1408.8" cy="354.9" r="2.9"/><circle cx="1421.1" cy="353.2" r="2.9"/><circle cx="1425.2" cy="355.4" r="2.9"/><circle cx="1417.0" cy="360.9" r="2.9"/><circle cx="1467.5" cy="128.3" r="2.9"/><circle cx="1467.5" cy="175.1" r="2.9"/><circle cx="1467.5" cy="202.6" r="2.9"/><circle cx="1459.3" cy="210.2" r="2.9"/><circle cx="1467.5" cy="217.3" r="2.9"/><circle cx="1459.3" cy="223.0" r="2.9"/><circle cx="1467.5" cy="229.2" r="2.9"/><circle cx="1475.5" cy="227.8" r="2.9"/><circle cx="1459.3" cy="238.1" r="2.9"/><circle cx="1467.5" cy="239.9" r="2.9"/><circle cx="1475.5" cy="249.1" r="2.9"/><circle cx="1459.3" cy="259.4" r="2.9"/><circle cx="1467.5" cy="255.5" r="2.9"/><circle cx="1467.5" cy="265.1" r="2.9"/><circle cx="1475.5" cy="270.6" r="2.9"/><circle cx="1467.5" cy="276.3" r="2.9"/><circle cx="1463.4" cy="287.9" r="2.9"/><circle cx="1459.3" cy="290.9" r="2.9"/><circle cx="1467.5" cy="291.4" r="2.9"/><circle cx="1471.4" cy="287.0" r="2.9"/><circle cx="1475.5" cy="288.4" r="2.9"/><circle cx="1459.3" cy="299.4" r="2.9"/><circle cx="1467.5" cy="302.1" r="2.9"/><circle cx="1471.4" cy="298.5" r="2.9"/><circle cx="1475.5" cy="302.1" r="2.9"/><circle cx="1455.1" cy="307.4" r="2.9"/><circle cx="1459.3" cy="311.8" r="2.9"/><circle cx="1463.4" cy="310.9" r="2.9"/><circle cx="1467.5" cy="312.7" r="2.9"/><circle cx="1471.4" cy="314.5" r="2.9"/><circle cx="1475.5" cy="311.5" r="2.9"/><circle cx="1459.3" cy="316.8" r="2.9"/><circle cx="1471.4" cy="308.3" r="2.9"/><circle cx="1467.5" cy="321.6" r="2.9"/><circle cx="1475.5" cy="321.2" r="2.9"/><circle cx="1459.3" cy="327.5" r="2.9"/><circle cx="1463.4" cy="332.3" r="2.9"/><circle cx="1467.5" cy="330.5" r="2.9"/><circle cx="1459.3" cy="338.1" r="2.9"/><circle cx="1467.5" cy="341.1" r="2.9"/><circle cx="1471.4" cy="336.7" r="2.9"/><circle cx="1475.5" cy="338.5" r="2.9"/><circle cx="1463.4" cy="343.8" r="2.9"/><circle cx="1475.5" cy="345.2" r="2.9"/><circle cx="1459.3" cy="348.8" r="2.9"/><circle cx="1467.5" cy="349.1" r="2.9"/><circle cx="1467.5" cy="358.9" r="2.9"/><circle cx="1509.8" cy="173.3" r="2.9"/><circle cx="1517.8" cy="178.6" r="2.9"/><circle cx="1509.8" cy="198.7" r="2.9"/><circle cx="1517.8" cy="201.3" r="2.9"/><circle cx="1525.8" cy="200.3" r="2.9"/><circle cx="1509.8" cy="207.0" r="2.9"/><circle cx="1517.8" cy="209.7" r="2.9"/><circle cx="1525.8" cy="218.6" r="2.9"/><circle cx="1517.8" cy="225.7" r="2.9"/><circle cx="1509.8" cy="240.4" r="2.9"/><circle cx="1517.8" cy="243.1" r="2.9"/><circle cx="1509.8" cy="261.2" r="2.9"/><circle cx="1517.8" cy="257.7" r="2.9"/><circle cx="1525.8" cy="256.8" r="2.9"/><circle cx="1517.8" cy="267.8" r="2.9"/><circle cx="1517.8" cy="281.6" r="2.9"/><circle cx="1517.8" cy="291.9" r="2.9"/><circle cx="1517.8" cy="301.2" r="2.9"/><circle cx="1513.7" cy="306.1" r="2.9"/><circle cx="1509.8" cy="310.4" r="2.9"/><circle cx="1521.9" cy="306.5" r="2.9"/><circle cx="1525.8" cy="307.4" r="2.9"/><circle cx="1517.8" cy="313.6" r="2.9"/><circle cx="1517.8" cy="326.6" r="2.9"/><circle cx="1525.8" cy="324.3" r="2.9"/><circle cx="1509.8" cy="336.7" r="2.9"/><circle cx="1517.8" cy="336.7" r="2.9"/><circle cx="1525.8" cy="335.5" r="2.9"/><circle cx="1509.8" cy="346.1" r="2.9"/><circle cx="1525.8" cy="350.2" r="2.9"/><circle cx="1517.8" cy="354.5" r="2.9"/><circle cx="1568.2" cy="128.9" r="2.9"/><circle cx="1568.2" cy="149.3" r="2.9"/><circle cx="1568.2" cy="158.7" r="2.9"/><circle cx="1568.2" cy="168.3" r="2.9"/><circle cx="1568.2" cy="188.4" r="2.9"/><circle cx="1576.4" cy="185.7" r="2.9"/><circle cx="1568.2" cy="203.8" r="2.9"/><circle cx="1576.4" cy="212.4" r="2.9"/><circle cx="1576.4" cy="215.9" r="2.9"/><circle cx="1568.2" cy="215.6" r="2.9"/><circle cx="1559.9" cy="219.1" r="2.9"/><circle cx="1568.2" cy="223.9" r="2.9"/><circle cx="1572.3" cy="226.6" r="2.9"/><circle cx="1559.9" cy="231.0" r="2.9"/><circle cx="1568.2" cy="233.7" r="2.9"/><circle cx="1576.4" cy="232.3" r="2.9"/><circle cx="1568.2" cy="242.2" r="2.9"/><circle cx="1559.9" cy="246.5" r="2.9"/><circle cx="1576.4" cy="248.8" r="2.9"/><circle cx="1568.2" cy="255.0" r="2.9"/><circle cx="1559.9" cy="274.2" r="2.9"/><circle cx="1568.2" cy="279.0" r="2.9"/><circle cx="1568.2" cy="287.0" r="2.9"/><circle cx="1568.2" cy="300.3" r="2.9"/><circle cx="1559.9" cy="305.6" r="2.9"/><circle cx="1572.3" cy="304.7" r="2.9"/><circle cx="1576.4" cy="310.4" r="2.9"/><circle cx="1568.2" cy="311.5" r="2.9"/><circle cx="1559.9" cy="317.2" r="2.9"/><circle cx="1568.2" cy="319.8" r="2.9"/><circle cx="1568.2" cy="332.8" r="2.9"/><circle cx="1568.2" cy="342.9" r="2.9"/><circle cx="1564.0" cy="345.9" r="2.9"/><circle cx="1559.9" cy="350.0" r="2.9"/><circle cx="1572.3" cy="348.2" r="2.9"/><circle cx="1568.2" cy="352.3" r="2.9"/><circle cx="1576.4" cy="351.8" r="2.9"/><circle cx="1618.5" cy="185.4" r="2.9"/><circle cx="1626.5" cy="184.8" r="2.9"/><circle cx="1618.5" cy="212.7" r="2.9"/><circle cx="1610.5" cy="222.7" r="2.9"/><circle cx="1618.5" cy="223.4" r="2.9"/><circle cx="1626.5" cy="222.7" r="2.9"/><circle cx="1618.5" cy="239.0" r="2.9"/><circle cx="1618.5" cy="253.6" r="2.9"/><circle cx="1618.5" cy="262.1" r="2.9"/><circle cx="1618.5" cy="276.3" r="2.9"/><circle cx="1618.5" cy="284.8" r="2.9"/><circle cx="1626.5" cy="291.9" r="2.9"/><circle cx="1618.5" cy="298.5" r="2.9"/><circle cx="1614.0" cy="314.5" r="2.9"/><circle cx="1610.5" cy="318.0" r="2.9"/><circle cx="1622.6" cy="311.8" r="2.9"/><circle cx="1626.5" cy="314.5" r="2.9"/><circle cx="1618.5" cy="320.4" r="2.9"/><circle cx="1626.5" cy="325.2" r="2.9"/><circle cx="1618.5" cy="332.3" r="2.9"/><circle cx="1610.5" cy="340.6" r="2.9"/><circle cx="1618.5" cy="341.1" r="2.9"/><circle cx="1618.5" cy="349.5" r="2.9"/></g><path d="M1247.9 277.7h35.8" stroke="#bb2a20" stroke-width="2.2"/><path d="M1298.3 330.6h35.8" stroke="#bb2a20" stroke-width="2.2"/><path d="M1348.7 324.3h35.8" stroke="#bb2a20" stroke-width="2.2"/><path d="M1399.1 306.4h35.8" stroke="#bb2a20" stroke-width="2.2"/><path d="M1449.5 301.9h35.8" stroke="#bb2a20" stroke-width="2.2"/><path d="M1499.9 282.2h35.8" stroke="#bb2a20" stroke-width="2.2"/><path d="M1550.3 249.0h35.8" stroke="#bb2a20" stroke-width="2.2"/><path d="M1600.7 292.9h35.8" stroke="#bb2a20" stroke-width="2.2"/></g>
<g><text x="263.8" y="544.6" font-family="Liberation Sans, Arial, sans-serif" font-weight="bold" font-size="28.8" text-anchor="middle">PV1</text><path d="M90.4 583.3V841.7H479" fill="none" stroke="#000" stroke-width="2"/><path d="M81.4 841.7H90.4" stroke="#000" stroke-width="2"/><text x="80.4" y="848.0" font-family="Liberation Sans, Arial, sans-serif" font-weight="bold" font-size="19" text-anchor="end">0.0</text><path d="M81.4 777.1H90.4" stroke="#000" stroke-width="2"/><text x="80.4" y="783.4" font-family="Liberation Sans, Arial, sans-serif" font-weight="bold" font-size="19" text-anchor="end">1.0</text><path d="M81.4 712.5H90.4" stroke="#000" stroke-width="2"/><text x="80.4" y="718.8" font-family="Liberation Sans, Arial, sans-serif" font-weight="bold" font-size="19" text-anchor="end">2.0</text><path d="M81.4 647.9H90.4" stroke="#000" stroke-width="2"/><text x="80.4" y="654.2" font-family="Liberation Sans, Arial, sans-serif" font-weight="bold" font-size="19" text-anchor="end">3.0</text><path d="M81.4 583.3H90.4" stroke="#000" stroke-width="2"/><text x="80.4" y="589.6" font-family="Liberation Sans, Arial, sans-serif" font-weight="bold" font-size="19" text-anchor="end">4.0</text><path d="M114.4 841.7v9" stroke="#000" stroke-width="2"/><text transform="translate(122.7,870.0) rotate(-45)" font-family="Liberation Sans, Arial, sans-serif" font-weight="bold" font-size="21.3" text-anchor="end">&lt;28d</text><path d="M162.9 841.7v9" stroke="#000" stroke-width="2"/><text transform="translate(171.2,870.0) rotate(-45)" font-family="Liberation Sans, Arial, sans-serif" font-weight="bold" font-size="21.3" text-anchor="end">1-6m</text><path d="M211.5 841.7v9" stroke="#000" stroke-width="2"/><text transform="translate(219.8,870.0) rotate(-45)" font-family="Liberation Sans, Arial, sans-serif" font-weight="bold" font-size="21.3" text-anchor="end">7-12m</text><path d="M260.0 841.7v9" stroke="#000" stroke-width="2"/><text transform="translate(268.3,870.0) rotate(-45)" font-family="Liberation Sans, Arial, sans-serif" font-weight="bold" font-size="21.3" text-anchor="end">13-24m</text><path d="M308.5 841.7v9" stroke="#000" stroke-width="2"/><text transform="translate(316.8,870.0) rotate(-45)" font-family="Liberation Sans, Arial, sans-serif" font-weight="bold" font-size="21.3" text-anchor="end">25-36m</text><path d="M357.1 841.7v9" stroke="#000" stroke-width="2"/><text transform="translate(365.4,870.0) rotate(-45)" font-family="Liberation Sans, Arial, sans-serif" font-weight="bold" font-size="21.3" text-anchor="end">37-48m</text><path d="M405.6 841.7v9" stroke="#000" stroke-width="2"/><text transform="translate(413.9,870.0) rotate(-45)" font-family="Liberation Sans, Arial, sans-serif" font-weight="bold" font-size="21.3" text-anchor="end">49-60m</text><path d="M454.1 841.7v9" stroke="#000" stroke-width="2"/><text transform="translate(462.4,870.0) rotate(-45)" font-family="Liberation Sans, Arial, sans-serif" font-weight="bold" font-size="21.3" text-anchor="end">61-72m</text><text transform="translate(41.4,714.0) rotate(-90)" font-family="Liberation Sans, Arial, sans-serif" font-weight="bold" font-size="20.9" text-anchor="middle">Absorbance (450 nm)</text><path d="M162.9 578.1V570.9H405.6V578.1" fill="none" stroke="#000" stroke-width="2.2" stroke-linecap="round" stroke-linejoin="round"/><text x="285.1" y="577.2" font-family="Liberation Sans, Arial, sans-serif" font-size="25" letter-spacing="2.3" text-anchor="middle">**</text><path d="M211.5 595.7V588.5H405.6V595.7" fill="none" stroke="#000" stroke-width="2.2" stroke-linecap="round" stroke-linejoin="round"/><text x="311.8" y="594.9" font-family="Liberation Sans, Arial, sans-serif" font-size="25" letter-spacing="2.3" text-anchor="middle">*</text><g fill="#000"><circle cx="114.3" cy="694.2" r="2.9"/><circle cx="114.3" cy="708.3" r="2.9"/><circle cx="114.3" cy="746.6" r="2.9"/><circle cx="106.4" cy="755.6" r="2.9"/><circle cx="114.3" cy="757.0" r="2.9"/><circle cx="122.2" cy="756.5" r="2.9"/><circle cx="106.4" cy="762.4" r="2.9"/><circle cx="110.6" cy="761.8" r="2.9"/><circle cx="122.2" cy="761.8" r="2.9"/><circle cx="114.3" cy="767.1" r="2.9"/><circle cx="114.3" cy="778.0" r="2.9"/><circle cx="106.4" cy="786.1" r="2.9"/><circle cx="114.3" cy="787.8" r="2.9"/><circle cx="106.4" cy="795.3" r="2.9"/><circle cx="114.3" cy="797.9" r="2.9"/><circle cx="118.5" cy="794.5" r="2.9"/><circle cx="122.2" cy="796.5" r="2.9"/><circle cx="106.4" cy="813.7" r="2.9"/><circle cx="110.6" cy="812.0" r="2.9"/><circle cx="118.5" cy="811.8" r="2.9"/><circle cx="122.2" cy="813.1" r="2.9"/><circle cx="114.3" cy="818.2" r="2.9"/><circle cx="118.5" cy="825.0" r="2.9"/><circle cx="106.4" cy="827.8" r="2.9"/><circle cx="114.3" cy="831.4" r="2.9"/><circle cx="122.2" cy="831.4" r="2.9"/><circle cx="162.8" cy="701.5" r="2.9"/><circle cx="162.8" cy="712.0" r="2.9"/><circle cx="162.8" cy="748.0" r="2.9"/><circle cx="155.1" cy="762.6" r="2.9"/><circle cx="170.7" cy="764.9" r="2.9"/><circle cx="162.8" cy="767.5" r="2.9"/><circle cx="166.7" cy="771.4" r="2.9"/><circle cx="159.1" cy="772.8" r="2.9"/><circle cx="170.7" cy="773.7" r="2.9"/><circle cx="155.1" cy="776.5" r="2.9"/><circle cx="162.8" cy="777.1" r="2.9"/><circle cx="166.7" cy="777.6" r="2.9"/><circle cx="155.1" cy="782.1" r="2.9"/><circle cx="170.7" cy="782.7" r="2.9"/><circle cx="162.8" cy="785.0" r="2.9"/><circle cx="151.2" cy="787.8" r="2.9"/><circle cx="159.1" cy="788.1" r="2.9"/><circle cx="166.7" cy="788.9" r="2.9"/><circle cx="170.9" cy="789.5" r="2.9"/><circle cx="174.9" cy="787.8" r="2.9"/><circle cx="155.1" cy="792.8" r="2.9"/><circle cx="162.8" cy="794.0" r="2.9"/><circle cx="166.7" cy="796.2" r="2.9"/><circle cx="155.1" cy="797.9" r="2.9"/><circle cx="159.1" cy="796.2" r="2.9"/><circle cx="170.7" cy="801.9" r="2.9"/><circle cx="162.8" cy="803.6" r="2.9"/><circle cx="152.9" cy="805.8" r="2.9"/><circle cx="159.1" cy="806.4" r="2.9"/><circle cx="166.7" cy="806.4" r="2.9"/><circle cx="173.2" cy="805.8" r="2.9"/><circle cx="149.5" cy="810.9" r="2.9"/><circle cx="155.0" cy="810.9" r="2.9"/><circle cx="160.5" cy="810.9" r="2.9"/><circle cx="166.0" cy="810.9" r="2.9"/><circle cx="171.5" cy="810.9" r="2.9"/><circle cx="177.0" cy="810.9" r="2.9"/><circle cx="152.2" cy="815.4" r="2.9"/><circle cx="157.7" cy="815.4" r="2.9"/><circle cx="163.2" cy="815.4" r="2.9"/><circle cx="168.7" cy="815.4" r="2.9"/><circle cx="174.2" cy="815.4" r="2.9"/><circle cx="149.5" cy="819.9" r="2.9"/><circle cx="155.0" cy="819.9" r="2.9"/><circle cx="160.5" cy="819.9" r="2.9"/><circle cx="166.0" cy="819.9" r="2.9"/><circle cx="171.5" cy="819.9" r="2.9"/><circle cx="177.0" cy="819.9" r="2.9"/><circle cx="152.2" cy="824.4" r="2.9"/><circle cx="157.7" cy="824.4" r="2.9"/><circle cx="163.2" cy="824.4" r="2.9"/><circle cx="168.7" cy="824.4" r="2.9"/><circle cx="174.2" cy="824.4" r="2.9"/><circle cx="149.5" cy="828.9" r="2.9"/><circle cx="155.0" cy="828.9" r="2.9"/><circle cx="160.5" cy="828.9" r="2.9"/><circle cx="166.0" cy="828.9" r="2.9"/><circle cx="171.5" cy="828.9" r="2.9"/><circle cx="177.0" cy="828.9" r="2.9"/><circle cx="152.2" cy="832.9" r="2.9"/><circle cx="157.7" cy="832.9" r="2.9"/><circle cx="163.2" cy="832.9" r="2.9"/><circle cx="168.7" cy="832.9" r="2.9"/><circle cx="174.2" cy="832.9" r="2.9"/><circle cx="155.1" cy="836.8" r="2.9"/><circle cx="160.6" cy="836.8" r="2.9"/><circle cx="166.1" cy="836.8" r="2.9"/><circle cx="211.2" cy="667.7" r="2.9"/><circle cx="203.6" cy="677.5" r="2.9"/><circle cx="211.2" cy="684.9" r="2.9"/><circle cx="211.2" cy="703.0" r="2.9"/><circle cx="211.2" cy="714.6" r="2.9"/><circle cx="211.2" cy="732.8" r="2.9"/><circle cx="203.6" cy="765.7" r="2.9"/><circle cx="211.2" cy="772.3" r="2.9"/><circle cx="223.5" cy="777.9" r="2.9"/><circle cx="203.6" cy="781.9" r="2.9"/><circle cx="207.2" cy="779.2" r="2.9"/><circle cx="215.2" cy="779.2" r="2.9"/><circle cx="219.1" cy="782.5" r="2.9"/><circle cx="207.2" cy="785.2" r="2.9"/><circle cx="215.2" cy="785.2" r="2.9"/><circle cx="203.6" cy="790.5" r="2.9"/><circle cx="211.2" cy="787.8" r="2.9"/><circle cx="219.1" cy="788.5" r="2.9"/><circle cx="203.6" cy="794.4" r="2.9"/><circle cx="211.2" cy="793.1" r="2.9"/><circle cx="219.1" cy="798.4" r="2.9"/><circle cx="211.2" cy="801.5" r="2.9"/><circle cx="207.2" cy="803.7" r="2.9"/><circle cx="203.6" cy="806.8" r="2.9"/><circle cx="219.1" cy="806.4" r="2.9"/><circle cx="211.2" cy="810.7" r="2.9"/><circle cx="211.2" cy="839.5" r="2.9"/><circle cx="199.9" cy="817.0" r="2.9"/><circle cx="204.9" cy="817.0" r="2.9"/><circle cx="209.9" cy="817.0" r="2.9"/><circle cx="214.9" cy="817.0" r="2.9"/><circle cx="219.9" cy="817.0" r="2.9"/><circle cx="202.4" cy="820.9" r="2.9"/><circle cx="207.4" cy="820.9" r="2.9"/><circle cx="212.4" cy="820.9" r="2.9"/><circle cx="217.4" cy="820.9" r="2.9"/><circle cx="222.4" cy="820.9" r="2.9"/><circle cx="199.9" cy="824.9" r="2.9"/><circle cx="204.9" cy="824.9" r="2.9"/><circle cx="209.9" cy="824.9" r="2.9"/><circle cx="214.9" cy="824.9" r="2.9"/><circle cx="219.9" cy="824.9" r="2.9"/><circle cx="201.1" cy="832.2" r="2.9"/><circle cx="206.1" cy="832.2" r="2.9"/><circle cx="211.1" cy="832.2" r="2.9"/><circle cx="216.1" cy="832.2" r="2.9"/><circle cx="221.1" cy="832.2" r="2.9"/><circle cx="202.6" cy="836.2" r="2.9"/><circle cx="207.6" cy="836.2" r="2.9"/><circle cx="212.6" cy="836.2" r="2.9"/><circle cx="217.6" cy="836.2" r="2.9"/><circle cx="252.2" cy="673.0" r="2.9"/><circle cx="264.2" cy="670.3" r="2.9"/><circle cx="260.2" cy="677.6" r="2.9"/><circle cx="268.1" cy="676.2" r="2.9"/><circle cx="252.2" cy="687.2" r="2.9"/><circle cx="260.2" cy="692.1" r="2.9"/><circle cx="260.2" cy="727.3" r="2.9"/><circle cx="256.2" cy="732.2" r="2.9"/><circle cx="252.2" cy="735.8" r="2.9"/><circle cx="260.2" cy="737.9" r="2.9"/><circle cx="268.1" cy="732.8" r="2.9"/><circle cx="252.2" cy="749.8" r="2.9"/><circle cx="260.2" cy="752.5" r="2.9"/><circle cx="268.1" cy="751.1" r="2.9"/><circle cx="252.2" cy="757.6" r="2.9"/><circle cx="260.2" cy="760.3" r="2.9"/><circle cx="268.1" cy="767.0" r="2.9"/><circle cx="260.2" cy="772.6" r="2.9"/><circle cx="248.3" cy="779.6" r="2.9"/><circle cx="256.2" cy="782.5" r="2.9"/><circle cx="252.2" cy="785.6" r="2.9"/><circle cx="260.2" cy="786.1" r="2.9"/><circle cx="264.2" cy="781.6" r="2.9"/><circle cx="268.1" cy="784.2" r="2.9"/><circle cx="252.2" cy="799.1" r="2.9"/><circle cx="256.2" cy="797.1" r="2.9"/><circle cx="264.2" cy="797.7" r="2.9"/><circle cx="268.1" cy="800.4" r="2.9"/><circle cx="260.2" cy="802.8" r="2.9"/><circle cx="252.2" cy="807.7" r="2.9"/><circle cx="268.1" cy="808.3" r="2.9"/><circle cx="247.6" cy="813.6" r="2.9"/><circle cx="253.1" cy="813.6" r="2.9"/><circle cx="258.6" cy="813.6" r="2.9"/><circle cx="264.1" cy="813.6" r="2.9"/><circle cx="269.6" cy="813.6" r="2.9"/><circle cx="249.0" cy="818.3" r="2.9"/><circle cx="254.5" cy="818.3" r="2.9"/><circle cx="260.0" cy="818.3" r="2.9"/><circle cx="265.5" cy="818.3" r="2.9"/><circle cx="271.0" cy="818.3" r="2.9"/><circle cx="246.3" cy="822.9" r="2.9"/><circle cx="251.8" cy="822.9" r="2.9"/><circle cx="257.3" cy="822.9" r="2.9"/><circle cx="262.8" cy="822.9" r="2.9"/><circle cx="268.3" cy="822.9" r="2.9"/><circle cx="249.0" cy="827.5" r="2.9"/><circle cx="254.5" cy="827.5" r="2.9"/><circle cx="260.0" cy="827.5" r="2.9"/><circle cx="265.5" cy="827.5" r="2.9"/><circle cx="271.0" cy="827.5" r="2.9"/><circle cx="247.6" cy="832.2" r="2.9"/><circle cx="253.1" cy="832.2" r="2.9"/><circle cx="258.6" cy="832.2" r="2.9"/><circle cx="264.1" cy="832.2" r="2.9"/><circle cx="269.6" cy="832.2" r="2.9"/><circle cx="259.0" cy="836.8" r="2.9"/><circle cx="264.5" cy="836.8" r="2.9"/><circle cx="308.6" cy="699.8" r="2.9"/><circle cx="300.9" cy="705.2" r="2.9"/><circle cx="308.6" cy="710.1" r="2.9"/><circle cx="308.6" cy="724.3" r="2.9"/><circle cx="308.6" cy="732.7" r="2.9"/><circle cx="300.9" cy="748.8" r="2.9"/><circle cx="308.6" cy="743.8" r="2.9"/><circle cx="316.3" cy="747.0" r="2.9"/><circle cx="308.6" cy="753.6" r="2.9"/><circle cx="308.6" cy="768.7" r="2.9"/><circle cx="300.9" cy="774.2" r="2.9"/><circle cx="316.3" cy="773.1" r="2.9"/><circle cx="304.5" cy="780.8" r="2.9"/><circle cx="308.6" cy="780.0" r="2.9"/><circle cx="312.6" cy="781.1" r="2.9"/><circle cx="300.9" cy="788.1" r="2.9"/><circle cx="308.6" cy="788.8" r="2.9"/><circle cx="316.3" cy="788.4" r="2.9"/><circle cx="304.5" cy="802.0" r="2.9"/><circle cx="316.3" cy="803.9" r="2.9"/><circle cx="300.9" cy="807.2" r="2.9"/><circle cx="308.6" cy="810.1" r="2.9"/><circle cx="308.6" cy="836.2" r="2.9"/><circle cx="297.2" cy="816.0" r="2.9"/><circle cx="301.1" cy="816.0" r="2.9"/><circle cx="305.0" cy="816.0" r="2.9"/><circle cx="308.9" cy="816.0" r="2.9"/><circle cx="312.8" cy="816.0" r="2.9"/><circle cx="316.7" cy="816.0" r="2.9"/><circle cx="320.7" cy="816.0" r="2.9"/><circle cx="297.2" cy="820.4" r="2.9"/><circle cx="301.1" cy="820.4" r="2.9"/><circle cx="305.0" cy="820.4" r="2.9"/><circle cx="308.9" cy="820.4" r="2.9"/><circle cx="312.8" cy="820.4" r="2.9"/><circle cx="316.7" cy="820.4" r="2.9"/><circle cx="320.7" cy="820.4" r="2.9"/><circle cx="295.0" cy="824.8" r="2.9"/><circle cx="299.5" cy="824.8" r="2.9"/><circle cx="304.0" cy="824.8" r="2.9"/><circle cx="308.6" cy="824.8" r="2.9"/><circle cx="313.1" cy="824.8" r="2.9"/><circle cx="317.6" cy="824.8" r="2.9"/><circle cx="322.1" cy="824.8" r="2.9"/><circle cx="297.2" cy="829.1" r="2.9"/><circle cx="301.1" cy="829.1" r="2.9"/><circle cx="305.0" cy="829.1" r="2.9"/><circle cx="308.9" cy="829.1" r="2.9"/><circle cx="312.8" cy="829.1" r="2.9"/><circle cx="316.7" cy="829.1" r="2.9"/><circle cx="320.7" cy="829.1" r="2.9"/><circle cx="300.1" cy="832.8" r="2.9"/><circle cx="304.5" cy="832.8" r="2.9"/><circle cx="308.9" cy="832.8" r="2.9"/><circle cx="313.3" cy="832.8" r="2.9"/><circle cx="317.7" cy="832.8" r="2.9"/><circle cx="357.0" cy="649.5" r="2.9"/><circle cx="349.2" cy="676.4" r="2.9"/><circle cx="357.0" cy="678.9" r="2.9"/><circle cx="364.9" cy="675.9" r="2.9"/><circle cx="364.9" cy="681.8" r="2.9"/><circle cx="349.2" cy="684.0" r="2.9"/><circle cx="357.0" cy="688.1" r="2.9"/><circle cx="349.2" cy="698.9" r="2.9"/><circle cx="357.0" cy="700.1" r="2.9"/><circle cx="364.9" cy="699.4" r="2.9"/><circle cx="357.0" cy="712.1" r="2.9"/><circle cx="357.0" cy="722.1" r="2.9"/><circle cx="357.0" cy="746.3" r="2.9"/><circle cx="357.0" cy="776.7" r="2.9"/><circle cx="357.0" cy="785.5" r="2.9"/><circle cx="349.2" cy="789.6" r="2.9"/><circle cx="364.9" cy="792.8" r="2.9"/><circle cx="357.0" cy="795.4" r="2.9"/><circle cx="349.2" cy="801.3" r="2.9"/><circle cx="357.0" cy="803.5" r="2.9"/><circle cx="349.2" cy="808.6" r="2.9"/><circle cx="364.9" cy="811.6" r="2.9"/><circle cx="357.0" cy="813.8" r="2.9"/><circle cx="352.9" cy="818.2" r="2.9"/><circle cx="361.0" cy="817.4" r="2.9"/><circle cx="364.9" cy="818.9" r="2.9"/><circle cx="349.2" cy="819.6" r="2.9"/><circle cx="357.0" cy="822.6" r="2.9"/><circle cx="349.2" cy="823.6" r="2.9"/><circle cx="364.9" cy="825.0" r="2.9"/><circle cx="357.0" cy="831.3" r="2.9"/><circle cx="405.7" cy="607.5" r="2.9"/><circle cx="405.7" cy="641.6" r="2.9"/><circle cx="413.6" cy="668.2" r="2.9"/><circle cx="405.7" cy="673.8" r="2.9"/><circle cx="405.7" cy="684.8" r="2.9"/><circle cx="405.7" cy="699.3" r="2.9"/><circle cx="397.8" cy="708.7" r="2.9"/><circle cx="405.7" cy="711.0" r="2.9"/><circle cx="413.6" cy="708.7" r="2.9"/><circle cx="397.8" cy="720.6" r="2.9"/><circle cx="405.7" cy="725.0" r="2.9"/><circle cx="413.6" cy="725.0" r="2.9"/><circle cx="397.8" cy="729.7" r="2.9"/><circle cx="405.7" cy="736.0" r="2.9"/><circle cx="405.7" cy="747.7" r="2.9"/><circle cx="413.6" cy="751.2" r="2.9"/><circle cx="397.8" cy="757.0" r="2.9"/><circle cx="405.7" cy="757.0" r="2.9"/><circle cx="405.7" cy="774.8" r="2.9"/><circle cx="401.9" cy="779.7" r="2.9"/><circle cx="409.7" cy="778.3" r="2.9"/><circle cx="413.6" cy="781.5" r="2.9"/><circle cx="397.8" cy="783.9" r="2.9"/><circle cx="405.7" cy="785.3" r="2.9"/><circle cx="405.7" cy="795.5" r="2.9"/><circle cx="397.8" cy="799.3" r="2.9"/><circle cx="413.6" cy="799.3" r="2.9"/><circle cx="405.7" cy="804.5" r="2.9"/><circle cx="397.8" cy="808.0" r="2.9"/><circle cx="409.7" cy="808.0" r="2.9"/><circle cx="413.6" cy="809.8" r="2.9"/><circle cx="405.7" cy="815.9" r="2.9"/><circle cx="397.8" cy="825.2" r="2.9"/><circle cx="405.7" cy="826.4" r="2.9"/><circle cx="413.6" cy="824.1" r="2.9"/><circle cx="405.7" cy="835.1" r="2.9"/><circle cx="413.6" cy="833.9" r="2.9"/><circle cx="454.3" cy="669.4" r="2.9"/><circle cx="454.3" cy="677.3" r="2.9"/><circle cx="454.3" cy="696.2" r="2.9"/><circle cx="454.3" cy="709.8" r="2.9"/><circle cx="458.3" cy="716.3" r="2.9"/><circle cx="446.4" cy="720.3" r="2.9"/><circle cx="454.3" cy="724.5" r="2.9"/><circle cx="462.2" cy="722.4" r="2.9"/><circle cx="454.3" cy="752.4" r="2.9"/><circle cx="454.3" cy="763.5" r="2.9"/><circle cx="454.3" cy="775.7" r="2.9"/><circle cx="454.3" cy="789.7" r="2.9"/><circle cx="446.4" cy="799.7" r="2.9"/><circle cx="454.3" cy="802.8" r="2.9"/><circle cx="462.2" cy="798.4" r="2.9"/><circle cx="446.4" cy="808.0" r="2.9"/><circle cx="454.3" cy="811.0" r="2.9"/><circle cx="462.2" cy="808.9" r="2.9"/><circle cx="446.4" cy="818.5" r="2.9"/><circle cx="454.3" cy="820.3" r="2.9"/><circle cx="462.2" cy="822.4" r="2.9"/><circle cx="446.4" cy="822.0" r="2.9"/><circle cx="454.3" cy="829.0" r="2.9"/></g><path d="M97.2 790.7h34.5" stroke="#bb2a20" stroke-width="2.2"/><path d="M145.7 812.0h34.5" stroke="#bb2a20" stroke-width="2.2"/><path d="M194.2 816.5h34.5" stroke="#bb2a20" stroke-width="2.2"/><path d="M242.8 807.5h34.5" stroke="#bb2a20" stroke-width="2.2"/><path d="M291.3 813.3h34.5" stroke="#bb2a20" stroke-width="2.2"/><path d="M339.8 789.4h34.5" stroke="#bb2a20" stroke-width="2.2"/><path d="M388.4 775.2h34.5" stroke="#bb2a20" stroke-width="2.2"/><path d="M436.9 790.0h34.5" stroke="#bb2a20" stroke-width="2.2"/></g>
<g><text x="831.8" y="522.8" font-family="Liberation Sans, Arial, sans-serif" font-weight="bold" font-size="27" text-anchor="middle">RV13</text><path d="M666.3 598.1V842.5H1033.2" fill="none" stroke="#000" stroke-width="2"/><path d="M657.3 842.5H666.3" stroke="#000" stroke-width="2"/><text x="656.3" y="848.8" font-family="Liberation Sans, Arial, sans-serif" font-weight="bold" font-size="19" text-anchor="end">0.0</text><path d="M657.3 781.4H666.3" stroke="#000" stroke-width="2"/><text x="656.3" y="787.7" font-family="Liberation Sans, Arial, sans-serif" font-weight="bold" font-size="19" text-anchor="end">1.0</text><path d="M657.3 720.3H666.3" stroke="#000" stroke-width="2"/><text x="656.3" y="726.6" font-family="Liberation Sans, Arial, sans-serif" font-weight="bold" font-size="19" text-anchor="end">2.0</text><path d="M657.3 659.2H666.3" stroke="#000" stroke-width="2"/><text x="656.3" y="665.5" font-family="Liberation Sans, Arial, sans-serif" font-weight="bold" font-size="19" text-anchor="end">3.0</text><path d="M657.3 598.1H666.3" stroke="#000" stroke-width="2"/><text x="656.3" y="604.4" font-family="Liberation Sans, Arial, sans-serif" font-weight="bold" font-size="19" text-anchor="end">4.0</text><path d="M689.1 842.5v9" stroke="#000" stroke-width="2"/><text transform="translate(697.0,869.9) rotate(-45)" font-family="Liberation Sans, Arial, sans-serif" font-weight="bold" font-size="20.2" text-anchor="end">&lt;28d</text><path d="M734.9 842.5v9" stroke="#000" stroke-width="2"/><text transform="translate(742.8,869.9) rotate(-45)" font-family="Liberation Sans, Arial, sans-serif" font-weight="bold" font-size="20.2" text-anchor="end">1-6m</text><path d="M780.6 842.5v9" stroke="#000" stroke-width="2"/><text transform="translate(788.5,869.9) rotate(-45)" font-family="Liberation Sans, Arial, sans-serif" font-weight="bold" font-size="20.2" text-anchor="end">7-12m</text><path d="M826.4 842.5v9" stroke="#000" stroke-width="2"/><text transform="translate(834.3,869.9) rotate(-45)" font-family="Liberation Sans, Arial, sans-serif" font-weight="bold" font-size="20.2" text-anchor="end">13-24m</text><path d="M872.2 842.5v9" stroke="#000" stroke-width="2"/><text transform="translate(880.1,869.9) rotate(-45)" font-family="Liberation Sans, Arial, sans-serif" font-weight="bold" font-size="20.2" text-anchor="end">25-36m</text><path d="M918.0 842.5v9" stroke="#000" stroke-width="2"/><text transform="translate(925.9,869.9) rotate(-45)" font-family="Liberation Sans, Arial, sans-serif" font-weight="bold" font-size="20.2" text-anchor="end">37-48m</text><path d="M963.7 842.5v9" stroke="#000" stroke-width="2"/><text transform="translate(971.6,869.9) rotate(-45)" font-family="Liberation Sans, Arial, sans-serif" font-weight="bold" font-size="20.2" text-anchor="end">49-60m</text><path d="M1009.5 842.5v9" stroke="#000" stroke-width="2"/><text transform="translate(1017.4,869.9) rotate(-45)" font-family="Liberation Sans, Arial, sans-serif" font-weight="bold" font-size="20.2" text-anchor="end">61-72m</text><text transform="translate(619.1,721.5) rotate(-90)" font-family="Liberation Sans, Arial, sans-serif" font-weight="bold" font-size="19.8" text-anchor="middle">Absorbance (450 nm)</text><path d="M734.9 543.5V536.3H1009.5V543.5" fill="none" stroke="#000" stroke-width="2.2" stroke-linecap="round" stroke-linejoin="round"/><text x="884.5" y="542.4" font-family="Liberation Sans, Arial, sans-serif" font-size="25" letter-spacing="1.4" text-anchor="middle">**</text><path d="M734.9 558.4V551.2H963.7V558.4" fill="none" stroke="#000" stroke-width="2.2" stroke-linecap="round" stroke-linejoin="round"/><text x="854.9" y="557.4" font-family="Liberation Sans, Arial, sans-serif" font-size="25" letter-spacing="1.4" text-anchor="middle">**</text><path d="M734.9 573.0V565.8H918.0V573.0" fill="none" stroke="#000" stroke-width="2.2" stroke-linecap="round" stroke-linejoin="round"/><text x="832.2" y="571.9" font-family="Liberation Sans, Arial, sans-serif" font-size="25" letter-spacing="1.4" text-anchor="middle">**</text><path d="M734.9 587.2V580H872.2V587.2" fill="none" stroke="#000" stroke-width="2.2" stroke-linecap="round" stroke-linejoin="round"/><text x="804.9" y="586.1" font-family="Liberation Sans, Arial, sans-serif" font-size="25" letter-spacing="1.4" text-anchor="middle">**</text><path d="M780.6 598.7V591.5H1009.5V598.7" fill="none" stroke="#000" stroke-width="2.2" stroke-linecap="round" stroke-linejoin="round"/><text x="903.4" y="597.6" font-family="Liberation Sans, Arial, sans-serif" font-size="25" letter-spacing="1.4" text-anchor="middle">**</text><path d="M780.6 610.8V603.6H963.7V610.8" fill="none" stroke="#000" stroke-width="2.2" stroke-linecap="round" stroke-linejoin="round"/><text x="882.2" y="609.8" font-family="Liberation Sans, Arial, sans-serif" font-size="25" letter-spacing="1.4" text-anchor="middle">**</text><path d="M780.6 623.9V616.7H918.0V623.9" fill="none" stroke="#000" stroke-width="2.2" stroke-linecap="round" stroke-linejoin="round"/><text x="853.4" y="622.9" font-family="Liberation Sans, Arial, sans-serif" font-size="25" letter-spacing="1.4" text-anchor="middle">**</text><path d="M780.6 636.6V629.4H872.2V636.6" fill="none" stroke="#000" stroke-width="2.2" stroke-linecap="round" stroke-linejoin="round"/><text x="832.2" y="635.5" font-family="Liberation Sans, Arial, sans-serif" font-size="25" letter-spacing="1.4" text-anchor="middle">**</text><path d="M826.4 647.2V640H963.7V647.2" fill="none" stroke="#000" stroke-width="2.2" stroke-linecap="round" stroke-linejoin="round"/><text x="897.4" y="646.1" font-family="Liberation Sans, Arial, sans-serif" font-size="25" letter-spacing="1.4" text-anchor="middle">*</text><g fill="#000"><circle cx="696.1" cy="693.0" r="2.9"/><circle cx="689.0" cy="697.6" r="2.9"/><circle cx="681.9" cy="702.8" r="2.9"/><circle cx="696.1" cy="701.1" r="2.9"/><circle cx="689.0" cy="707.8" r="2.9"/><circle cx="681.9" cy="718.1" r="2.9"/><circle cx="689.0" cy="717.4" r="2.9"/><circle cx="689.0" cy="725.5" r="2.9"/><circle cx="696.1" cy="733.3" r="2.9"/><circle cx="689.0" cy="735.9" r="2.9"/><circle cx="681.9" cy="743.6" r="2.9"/><circle cx="689.0" cy="745.0" r="2.9"/><circle cx="696.1" cy="749.6" r="2.9"/><circle cx="689.0" cy="755.7" r="2.9"/><circle cx="681.9" cy="769.1" r="2.9"/><circle cx="689.0" cy="775.6" r="2.9"/><circle cx="681.9" cy="789.8" r="2.9"/><circle cx="689.0" cy="794.4" r="2.9"/><circle cx="696.1" cy="793.3" r="2.9"/><circle cx="681.9" cy="803.6" r="2.9"/><circle cx="689.0" cy="806.8" r="2.9"/><circle cx="689.0" cy="815.8" r="2.9"/><circle cx="681.9" cy="822.0" r="2.9"/><circle cx="689.0" cy="827.0" r="2.9"/><circle cx="689.0" cy="838.8" r="2.9"/><circle cx="696.1" cy="836.7" r="2.9"/><circle cx="727.5" cy="714.3" r="2.9"/><circle cx="734.6" cy="720.9" r="2.9"/><circle cx="741.9" cy="719.5" r="2.9"/><circle cx="734.6" cy="739.6" r="2.9"/><circle cx="741.9" cy="743.0" r="2.9"/><circle cx="734.6" cy="748.0" r="2.9"/><circle cx="727.5" cy="767.8" r="2.9"/><circle cx="734.6" cy="771.2" r="2.9"/><circle cx="730.9" cy="773.5" r="2.9"/><circle cx="738.2" cy="774.7" r="2.9"/><circle cx="727.5" cy="777.0" r="2.9"/><circle cx="741.9" cy="779.3" r="2.9"/><circle cx="734.6" cy="780.6" r="2.9"/><circle cx="730.9" cy="791.3" r="2.9"/><circle cx="738.2" cy="790.2" r="2.9"/><circle cx="727.5" cy="795.9" r="2.9"/><circle cx="734.6" cy="796.5" r="2.9"/><circle cx="741.9" cy="795.6" r="2.9"/><circle cx="730.9" cy="800.9" r="2.9"/><circle cx="738.2" cy="801.1" r="2.9"/><circle cx="727.5" cy="805.1" r="2.9"/><circle cx="734.6" cy="806.8" r="2.9"/><circle cx="741.9" cy="806.6" r="2.9"/><circle cx="723.5" cy="809.1" r="2.9"/><circle cx="730.9" cy="810.9" r="2.9"/><circle cx="738.2" cy="809.7" r="2.9"/><circle cx="745.3" cy="809.7" r="2.9"/><circle cx="724.6" cy="814.3" r="2.9"/><circle cx="730.1" cy="814.3" r="2.9"/><circle cx="735.6" cy="814.3" r="2.9"/><circle cx="741.1" cy="814.3" r="2.9"/><circle cx="725.1" cy="818.9" r="2.9"/><circle cx="730.6" cy="818.9" r="2.9"/><circle cx="736.1" cy="818.9" r="2.9"/><circle cx="741.6" cy="818.9" r="2.9"/><circle cx="747.1" cy="818.9" r="2.9"/><circle cx="722.3" cy="823.5" r="2.9"/><circle cx="727.8" cy="823.5" r="2.9"/><circle cx="733.3" cy="823.5" r="2.9"/><circle cx="738.8" cy="823.5" r="2.9"/><circle cx="744.3" cy="823.5" r="2.9"/><circle cx="725.1" cy="828.1" r="2.9"/><circle cx="730.6" cy="828.1" r="2.9"/><circle cx="736.1" cy="828.1" r="2.9"/><circle cx="741.6" cy="828.1" r="2.9"/><circle cx="722.3" cy="832.7" r="2.9"/><circle cx="727.8" cy="832.7" r="2.9"/><circle cx="733.3" cy="832.7" r="2.9"/><circle cx="738.8" cy="832.7" r="2.9"/><circle cx="744.3" cy="832.7" r="2.9"/><circle cx="724.8" cy="837.3" r="2.9"/><circle cx="729.8" cy="837.3" r="2.9"/><circle cx="734.8" cy="837.3" r="2.9"/><circle cx="739.8" cy="837.3" r="2.9"/><circle cx="744.8" cy="837.3" r="2.9"/><circle cx="773.2" cy="697.3" r="2.9"/><circle cx="780.6" cy="701.6" r="2.9"/><circle cx="773.2" cy="735.4" r="2.9"/><circle cx="780.6" cy="737.4" r="2.9"/><circle cx="784.5" cy="733.5" r="2.9"/><circle cx="788.1" cy="736.3" r="2.9"/><circle cx="773.2" cy="750.0" r="2.9"/><circle cx="773.2" cy="759.4" r="2.9"/><circle cx="780.6" cy="757.1" r="2.9"/><circle cx="784.5" cy="758.6" r="2.9"/><circle cx="780.6" cy="766.2" r="2.9"/><circle cx="788.1" cy="764.6" r="2.9"/><circle cx="773.2" cy="786.2" r="2.9"/><circle cx="780.6" cy="786.2" r="2.9"/><circle cx="773.2" cy="797.2" r="2.9"/><circle cx="788.1" cy="798.7" r="2.9"/><circle cx="780.6" cy="802.7" r="2.9"/><circle cx="776.7" cy="805.8" r="2.9"/><circle cx="784.5" cy="805.8" r="2.9"/><circle cx="773.2" cy="808.2" r="2.9"/><circle cx="788.1" cy="808.2" r="2.9"/><circle cx="780.6" cy="810.5" r="2.9"/><circle cx="773.2" cy="822.3" r="2.9"/><circle cx="780.6" cy="824.4" r="2.9"/><circle cx="788.1" cy="823.1" r="2.9"/><circle cx="769.6" cy="827.0" r="2.9"/><circle cx="791.6" cy="827.0" r="2.9"/><circle cx="769.6" cy="832.5" r="2.9"/><circle cx="774.0" cy="832.5" r="2.9"/><circle cx="778.4" cy="832.5" r="2.9"/><circle cx="782.8" cy="832.5" r="2.9"/><circle cx="787.2" cy="832.5" r="2.9"/><circle cx="791.6" cy="832.5" r="2.9"/><circle cx="768.0" cy="837.3" r="2.9"/><circle cx="772.2" cy="837.3" r="2.9"/><circle cx="776.4" cy="837.3" r="2.9"/><circle cx="780.6" cy="837.3" r="2.9"/><circle cx="784.8" cy="837.3" r="2.9"/><circle cx="789.0" cy="837.3" r="2.9"/><circle cx="793.2" cy="837.3" r="2.9"/><circle cx="826.2" cy="634.4" r="2.9"/><circle cx="818.8" cy="664.3" r="2.9"/><circle cx="826.2" cy="669.3" r="2.9"/><circle cx="826.2" cy="681.9" r="2.9"/><circle cx="826.2" cy="689.5" r="2.9"/><circle cx="826.2" cy="698.1" r="2.9"/><circle cx="833.7" cy="695.4" r="2.9"/><circle cx="818.8" cy="709.9" r="2.9"/><circle cx="822.7" cy="708.3" r="2.9"/><circle cx="826.2" cy="712.7" r="2.9"/><circle cx="833.7" cy="709.1" r="2.9"/><circle cx="826.2" cy="720.6" r="2.9"/><circle cx="818.8" cy="735.8" r="2.9"/><circle cx="826.2" cy="740.1" r="2.9"/><circle cx="833.7" cy="745.8" r="2.9"/><circle cx="818.8" cy="744.2" r="2.9"/><circle cx="826.2" cy="750.5" r="2.9"/><circle cx="818.8" cy="755.8" r="2.9"/><circle cx="826.2" cy="758.3" r="2.9"/><circle cx="833.7" cy="763.1" r="2.9"/><circle cx="818.8" cy="771.5" r="2.9"/><circle cx="822.7" cy="767.8" r="2.9"/><circle cx="826.2" cy="768.1" r="2.9"/><circle cx="833.7" cy="768.9" r="2.9"/><circle cx="826.2" cy="775.2" r="2.9"/><circle cx="833.7" cy="781.4" r="2.9"/><circle cx="826.2" cy="783.8" r="2.9"/><circle cx="815.2" cy="786.9" r="2.9"/><circle cx="830.1" cy="786.9" r="2.9"/><circle cx="818.8" cy="794.0" r="2.9"/><circle cx="826.2" cy="792.5" r="2.9"/><circle cx="833.7" cy="791.7" r="2.9"/><circle cx="822.7" cy="797.2" r="2.9"/><circle cx="830.1" cy="799.5" r="2.9"/><circle cx="818.8" cy="802.4" r="2.9"/><circle cx="826.2" cy="804.2" r="2.9"/><circle cx="833.7" cy="805.0" r="2.9"/><circle cx="815.2" cy="806.6" r="2.9"/><circle cx="822.7" cy="807.4" r="2.9"/><circle cx="826.2" cy="810.5" r="2.9"/><circle cx="830.1" cy="809.0" r="2.9"/><circle cx="818.8" cy="812.1" r="2.9"/><circle cx="833.7" cy="812.1" r="2.9"/><circle cx="822.7" cy="816.8" r="2.9"/><circle cx="830.1" cy="815.3" r="2.9"/><circle cx="818.8" cy="820.8" r="2.9"/><circle cx="826.2" cy="822.3" r="2.9"/><circle cx="833.7" cy="821.2" r="2.9"/><circle cx="822.7" cy="825.5" r="2.9"/><circle cx="830.1" cy="825.5" r="2.9"/><circle cx="833.7" cy="826.3" r="2.9"/><circle cx="818.8" cy="831.0" r="2.9"/><circle cx="826.2" cy="832.5" r="2.9"/><circle cx="815.2" cy="835.7" r="2.9"/><circle cx="822.7" cy="836.5" r="2.9"/><circle cx="830.1" cy="835.7" r="2.9"/><circle cx="837.2" cy="836.5" r="2.9"/><circle cx="826.2" cy="838.8" r="2.9"/><circle cx="872.1" cy="667.5" r="2.9"/><circle cx="872.1" cy="699.6" r="2.9"/><circle cx="868.7" cy="712.1" r="2.9"/><circle cx="872.1" cy="710.1" r="2.9"/><circle cx="883.0" cy="711.5" r="2.9"/><circle cx="865.1" cy="717.9" r="2.9"/><circle cx="872.1" cy="717.9" r="2.9"/><circle cx="875.5" cy="717.9" r="2.9"/><circle cx="879.2" cy="718.3" r="2.9"/><circle cx="872.1" cy="725.7" r="2.9"/><circle cx="875.5" cy="729.8" r="2.9"/><circle cx="865.1" cy="732.3" r="2.9"/><circle cx="879.2" cy="734.2" r="2.9"/><circle cx="872.1" cy="736.6" r="2.9"/><circle cx="868.7" cy="740.4" r="2.9"/><circle cx="865.1" cy="743.4" r="2.9"/><circle cx="879.2" cy="742.1" r="2.9"/><circle cx="872.1" cy="745.1" r="2.9"/><circle cx="865.1" cy="750.9" r="2.9"/><circle cx="879.2" cy="752.3" r="2.9"/><circle cx="872.1" cy="757.3" r="2.9"/><circle cx="861.5" cy="759.8" r="2.9"/><circle cx="883.0" cy="758.4" r="2.9"/><circle cx="865.1" cy="763.8" r="2.9"/><circle cx="868.7" cy="763.2" r="2.9"/><circle cx="872.1" cy="764.5" r="2.9"/><circle cx="875.5" cy="762.5" r="2.9"/><circle cx="879.2" cy="763.8" r="2.9"/><circle cx="879.2" cy="770.9" r="2.9"/><circle cx="868.7" cy="776.8" r="2.9"/><circle cx="872.1" cy="775.4" r="2.9"/><circle cx="875.5" cy="776.1" r="2.9"/><circle cx="865.1" cy="780.9" r="2.9"/><circle cx="879.2" cy="779.5" r="2.9"/><circle cx="872.1" cy="783.2" r="2.9"/><circle cx="865.1" cy="795.8" r="2.9"/><circle cx="875.5" cy="795.1" r="2.9"/><circle cx="872.1" cy="800.3" r="2.9"/><circle cx="879.2" cy="798.5" r="2.9"/><circle cx="872.1" cy="810.1" r="2.9"/><circle cx="879.2" cy="816.6" r="2.9"/><circle cx="872.1" cy="821.7" r="2.9"/><circle cx="872.1" cy="830.5" r="2.9"/><circle cx="865.1" cy="835.7" r="2.9"/><circle cx="875.5" cy="834.6" r="2.9"/><circle cx="879.2" cy="836.2" r="2.9"/><circle cx="872.1" cy="839.4" r="2.9"/><circle cx="910.9" cy="693.4" r="2.9"/><circle cx="925.9" cy="691.5" r="2.9"/><circle cx="918.1" cy="697.2" r="2.9"/><circle cx="910.9" cy="702.6" r="2.9"/><circle cx="925.9" cy="702.9" r="2.9"/><circle cx="918.1" cy="708.3" r="2.9"/><circle cx="925.9" cy="713.5" r="2.9"/><circle cx="910.9" cy="717.9" r="2.9"/><circle cx="918.1" cy="718.3" r="2.9"/><circle cx="910.9" cy="724.4" r="2.9"/><circle cx="918.1" cy="727.8" r="2.9"/><circle cx="925.9" cy="726.4" r="2.9"/><circle cx="910.9" cy="747.2" r="2.9"/><circle cx="910.9" cy="750.0" r="2.9"/><circle cx="918.1" cy="749.1" r="2.9"/><circle cx="925.9" cy="753.6" r="2.9"/><circle cx="918.1" cy="757.7" r="2.9"/><circle cx="910.9" cy="764.5" r="2.9"/><circle cx="914.3" cy="763.2" r="2.9"/><circle cx="918.1" cy="767.2" r="2.9"/><circle cx="925.9" cy="763.8" r="2.9"/><circle cx="918.1" cy="783.6" r="2.9"/><circle cx="910.9" cy="800.6" r="2.9"/><circle cx="918.1" cy="804.7" r="2.9"/><circle cx="925.9" cy="816.6" r="2.9"/><circle cx="918.1" cy="818.9" r="2.9"/><circle cx="910.9" cy="824.4" r="2.9"/><circle cx="918.1" cy="828.5" r="2.9"/><circle cx="910.9" cy="834.3" r="2.9"/><circle cx="918.1" cy="839.8" r="2.9"/><circle cx="925.9" cy="838.0" r="2.9"/><circle cx="956.5" cy="644.8" r="2.9"/><circle cx="963.6" cy="650.8" r="2.9"/><circle cx="963.6" cy="662.5" r="2.9"/><circle cx="956.5" cy="669.2" r="2.9"/><circle cx="960.3" cy="667.3" r="2.9"/><circle cx="963.6" cy="673.7" r="2.9"/><circle cx="971.1" cy="669.2" r="2.9"/><circle cx="956.5" cy="695.4" r="2.9"/><circle cx="960.3" cy="689.8" r="2.9"/><circle cx="963.6" cy="687.9" r="2.9"/><circle cx="967.3" cy="688.3" r="2.9"/><circle cx="971.1" cy="690.9" r="2.9"/><circle cx="963.6" cy="695.4" r="2.9"/><circle cx="956.5" cy="711.9" r="2.9"/><circle cx="963.6" cy="717.3" r="2.9"/><circle cx="971.1" cy="716.1" r="2.9"/><circle cx="956.5" cy="721.3" r="2.9"/><circle cx="963.6" cy="726.9" r="2.9"/><circle cx="971.1" cy="731.8" r="2.9"/><circle cx="963.6" cy="739.4" r="2.9"/><circle cx="956.5" cy="747.3" r="2.9"/><circle cx="971.1" cy="746.9" r="2.9"/><circle cx="963.6" cy="753.3" r="2.9"/><circle cx="956.5" cy="767.9" r="2.9"/><circle cx="960.3" cy="765.6" r="2.9"/><circle cx="967.3" cy="766.8" r="2.9"/><circle cx="963.6" cy="771.3" r="2.9"/><circle cx="971.1" cy="771.3" r="2.9"/><circle cx="956.5" cy="784.4" r="2.9"/><circle cx="963.6" cy="789.7" r="2.9"/><circle cx="956.5" cy="799.4" r="2.9"/><circle cx="971.1" cy="801.7" r="2.9"/><circle cx="963.6" cy="805.4" r="2.9"/><circle cx="956.5" cy="812.2" r="2.9"/><circle cx="971.1" cy="809.5" r="2.9"/><circle cx="963.6" cy="815.5" r="2.9"/><circle cx="963.6" cy="824.5" r="2.9"/><circle cx="1009.4" cy="656.3" r="2.9"/><circle cx="1009.4" cy="686.1" r="2.9"/><circle cx="1009.4" cy="694.8" r="2.9"/><circle cx="1009.4" cy="710.8" r="2.9"/><circle cx="1013.3" cy="715.3" r="2.9"/><circle cx="1001.9" cy="718.3" r="2.9"/><circle cx="1009.4" cy="721.8" r="2.9"/><circle cx="1005.8" cy="724.8" r="2.9"/><circle cx="1016.9" cy="720.9" r="2.9"/><circle cx="1016.9" cy="726.3" r="2.9"/><circle cx="1001.9" cy="729.3" r="2.9"/><circle cx="1009.4" cy="729.9" r="2.9"/><circle cx="1009.4" cy="737.9" r="2.9"/><circle cx="1016.9" cy="735.3" r="2.9"/><circle cx="1001.9" cy="745.4" r="2.9"/><circle cx="1009.4" cy="745.8" r="2.9"/><circle cx="1016.9" cy="742.8" r="2.9"/><circle cx="1009.4" cy="756.3" r="2.9"/><circle cx="1016.9" cy="755.9" r="2.9"/><circle cx="1009.4" cy="770.4" r="2.9"/><circle cx="1009.4" cy="783.3" r="2.9"/><circle cx="1009.4" cy="812.2" r="2.9"/><circle cx="1009.4" cy="824.5" r="2.9"/></g><path d="M672.9 752.1h32.5" stroke="#bb2a20" stroke-width="2.2"/><path d="M718.6 820.5h32.5" stroke="#bb2a20" stroke-width="2.2"/><path d="M764.4 828.4h32.5" stroke="#bb2a20" stroke-width="2.2"/><path d="M810.2 791.8h32.5" stroke="#bb2a20" stroke-width="2.2"/><path d="M855.9 761.8h32.5" stroke="#bb2a20" stroke-width="2.2"/><path d="M901.7 753.3h32.5" stroke="#bb2a20" stroke-width="2.2"/><path d="M947.5 732.5h32.5" stroke="#bb2a20" stroke-width="2.2"/><path d="M993.2 730.1h32.5" stroke="#bb2a20" stroke-width="2.2"/></g>
<text x="5" y="983.6" font-family="Liberation Sans, Arial, sans-serif" font-size="40.6">(B)</text>
<g><path d="M154.7 1002.1V1331.9H583.8" fill="none" stroke="#a5a5a5" stroke-width="1.6"/><path d="M148.2 1331.9H154.7" stroke="#a5a5a5" stroke-width="1.6"/><text x="128" y="1340.1" font-family="Liberation Sans, Arial, sans-serif" font-size="24" text-anchor="end">0.0</text><path d="M148.2 1265.9H154.7" stroke="#a5a5a5" stroke-width="1.6"/><text x="128" y="1274.1" font-family="Liberation Sans, Arial, sans-serif" font-size="24" text-anchor="end">0.4</text><path d="M148.2 1200.0H154.7" stroke="#a5a5a5" stroke-width="1.6"/><text x="128" y="1208.2" font-family="Liberation Sans, Arial, sans-serif" font-size="24" text-anchor="end">0.8</text><path d="M148.2 1134.0H154.7" stroke="#a5a5a5" stroke-width="1.6"/><text x="128" y="1142.2" font-family="Liberation Sans, Arial, sans-serif" font-size="24" text-anchor="end">1.2</text><path d="M148.2 1068.1H154.7" stroke="#a5a5a5" stroke-width="1.6"/><text x="128" y="1076.3" font-family="Liberation Sans, Arial, sans-serif" font-size="24" text-anchor="end">1.6</text><path d="M148.2 1002.1H154.7" stroke="#a5a5a5" stroke-width="1.6"/><text x="128" y="1010.3" font-family="Liberation Sans, Arial, sans-serif" font-size="24" text-anchor="end">2.0</text><path d="M154.7 1331.9v7" stroke="#a5a5a5" stroke-width="1.6"/><path d="M208.3 1331.9v7" stroke="#a5a5a5" stroke-width="1.6"/><path d="M262.0 1331.9v7" stroke="#a5a5a5" stroke-width="1.6"/><path d="M315.6 1331.9v7" stroke="#a5a5a5" stroke-width="1.6"/><path d="M369.2 1331.9v7" stroke="#a5a5a5" stroke-width="1.6"/><path d="M422.9 1331.9v7" stroke="#a5a5a5" stroke-width="1.6"/><path d="M476.5 1331.9v7" stroke="#a5a5a5" stroke-width="1.6"/><path d="M530.2 1331.9v7" stroke="#a5a5a5" stroke-width="1.6"/><path d="M583.8 1331.9v7" stroke="#a5a5a5" stroke-width="1.6"/><text transform="translate(187.0,1361.4) rotate(-45)" font-family="Liberation Sans, Arial, sans-serif" font-size="23" text-anchor="end">&lt;28d</text><text transform="translate(240.7,1361.4) rotate(-45)" font-family="Liberation Sans, Arial, sans-serif" font-size="23" text-anchor="end">1-6m</text><text transform="translate(294.3,1361.4) rotate(-45)" font-family="Liberation Sans, Arial, sans-serif" font-size="23" text-anchor="end">7-12m</text><text transform="translate(347.9,1361.4) rotate(-45)" font-family="Liberation Sans, Arial, sans-serif" font-size="23" text-anchor="end">13-24m</text><text transform="translate(401.6,1361.4) rotate(-45)" font-family="Liberation Sans, Arial, sans-serif" font-size="23" text-anchor="end">25-36m</text><text transform="translate(455.2,1361.4) rotate(-45)" font-family="Liberation Sans, Arial, sans-serif" font-size="23" text-anchor="end">37-48m</text><text transform="translate(508.8,1361.4) rotate(-45)" font-family="Liberation Sans, Arial, sans-serif" font-size="23" text-anchor="end">49-60m</text><text transform="translate(562.5,1361.4) rotate(-45)" font-family="Liberation Sans, Arial, sans-serif" font-size="23" text-anchor="end">61-72m</text><text transform="translate(83,1168.3) rotate(-90)" font-family="Liberation Sans, Arial, sans-serif" font-size="25.3" text-anchor="middle">Absorbance(450nm)</text><path d="M181.5 1277.5 L235.2 1315.4 L288.8 1312.1 L342.4 1300.6 L396.1 1295.6 L449.7 1242.9 L503.3 1242.9 L557.0 1290.7" fill="none" stroke="#4f81bd" stroke-width="4.5" stroke-linejoin="round"/><path d="M181.5 1269.5L189.0 1277.5L181.5 1285.5L174.0 1277.5Z" fill="#4f81bd"/><path d="M235.2 1307.4L242.7 1315.4L235.2 1323.4L227.7 1315.4Z" fill="#4f81bd"/><path d="M288.8 1304.1L296.3 1312.1L288.8 1320.1L281.3 1312.1Z" fill="#4f81bd"/><path d="M342.4 1292.6L349.9 1300.6L342.4 1308.6L334.9 1300.6Z" fill="#4f81bd"/><path d="M396.1 1287.6L403.6 1295.6L396.1 1303.6L388.6 1295.6Z" fill="#4f81bd"/><path d="M449.7 1234.9L457.2 1242.9L449.7 1250.9L442.2 1242.9Z" fill="#4f81bd"/><path d="M503.3 1234.9L510.8 1242.9L503.3 1250.9L495.8 1242.9Z" fill="#4f81bd"/><path d="M557.0 1282.7L564.5 1290.7L557.0 1298.7L549.5 1290.7Z" fill="#4f81bd"/><path d="M181.5 1262.6 L235.2 1310.5 L288.8 1312.1 L342.4 1302.2 L396.1 1294.0 L449.7 1218.1 L503.3 1157.9 L557.0 1287.4" fill="none" stroke="#c0504d" stroke-width="4.5" stroke-linejoin="round"/><rect x="173.5" y="1254.6" width="16" height="16" fill="#c0504d"/><rect x="227.2" y="1302.5" width="16" height="16" fill="#c0504d"/><rect x="280.8" y="1304.1" width="16" height="16" fill="#c0504d"/><rect x="334.4" y="1294.2" width="16" height="16" fill="#c0504d"/><rect x="388.1" y="1286.0" width="16" height="16" fill="#c0504d"/><rect x="441.7" y="1210.1" width="16" height="16" fill="#c0504d"/><rect x="495.3" y="1149.9" width="16" height="16" fill="#c0504d"/><rect x="549.0" y="1279.4" width="16" height="16" fill="#c0504d"/><path d="M181.5 1170.3 L235.2 1265.9 L288.8 1252.7 L342.4 1221.4 L396.1 1213.2 L449.7 1176.9 L503.3 1114.7 L557.0 1196.7" fill="none" stroke="#9bbb59" stroke-width="4.5" stroke-linejoin="round"/><path d="M181.5 1161.8L189.8 1178.3L173.2 1178.3Z" fill="#9bbb59"/><path d="M235.2 1257.4L243.5 1273.9L226.89999999999998 1273.9Z" fill="#9bbb59"/><path d="M288.8 1244.2L297.1 1260.7L280.5 1260.7Z" fill="#9bbb59"/><path d="M342.4 1212.9L350.7 1229.4L334.09999999999997 1229.4Z" fill="#9bbb59"/><path d="M396.1 1204.7L404.40000000000003 1221.2L387.8 1221.2Z" fill="#9bbb59"/><path d="M449.7 1168.4L458.0 1184.9L441.4 1184.9Z" fill="#9bbb59"/><path d="M503.3 1106.2L511.6 1122.7L495.0 1122.7Z" fill="#9bbb59"/><path d="M557.0 1188.2L565.3 1204.7L548.7 1204.7Z" fill="#9bbb59"/><path d="M181.5 1201.6 L235.2 1256.0 L288.8 1267.6 L342.4 1244.5 L396.1 1258.5 L449.7 1198.3 L503.3 1160.4 L557.0 1198.3" fill="none" stroke="#8064a2" stroke-width="4.5" stroke-linejoin="round"/><path d="M173.5 1194.1L189.5 1209.1M189.5 1194.1L173.5 1209.1" stroke="#8064a2" stroke-width="1.6"/><path d="M227.2 1248.5L243.2 1263.5M243.2 1248.5L227.2 1263.5" stroke="#8064a2" stroke-width="1.6"/><path d="M280.8 1260.1L296.8 1275.1M296.8 1260.1L280.8 1275.1" stroke="#8064a2" stroke-width="1.6"/><path d="M334.4 1237.0L350.4 1252.0M350.4 1237.0L334.4 1252.0" stroke="#8064a2" stroke-width="1.6"/><path d="M388.1 1251.0L404.1 1266.0M404.1 1251.0L388.1 1266.0" stroke="#8064a2" stroke-width="1.6"/><path d="M441.7 1190.8L457.7 1205.8M457.7 1190.8L441.7 1205.8" stroke="#8064a2" stroke-width="1.6"/><path d="M495.3 1152.9L511.3 1167.9M511.3 1152.9L495.3 1167.9" stroke="#8064a2" stroke-width="1.6"/><path d="M549.0 1190.8L565.0 1205.8M565.0 1190.8L549.0 1205.8" stroke="#8064a2" stroke-width="1.6"/><path d="M181.5 1087.8 L235.2 1272.5 L288.8 1292.3 L342.4 1193.7 L396.1 1114.7 L449.7 1091.1 L503.3 1031.8 L557.0 1026.5" fill="none" stroke="#4bacc6" stroke-width="4.5" stroke-linejoin="round"/><path d="M173.5 1080.3L189.5 1095.3M189.5 1080.3L173.5 1095.3M181.5 1080.3V1095.3" stroke="#4bacc6" stroke-width="1.6"/><path d="M227.2 1265.0L243.2 1280.0M243.2 1265.0L227.2 1280.0M235.2 1265.0V1280.0" stroke="#4bacc6" stroke-width="1.6"/><path d="M280.8 1284.8L296.8 1299.8M296.8 1284.8L280.8 1299.8M288.8 1284.8V1299.8" stroke="#4bacc6" stroke-width="1.6"/><path d="M334.4 1186.2L350.4 1201.2M350.4 1186.2L334.4 1201.2M342.4 1186.2V1201.2" stroke="#4bacc6" stroke-width="1.6"/><path d="M388.1 1107.2L404.1 1122.2M404.1 1107.2L388.1 1122.2M396.1 1107.2V1122.2" stroke="#4bacc6" stroke-width="1.6"/><path d="M441.7 1083.6L457.7 1098.6M457.7 1083.6L441.7 1098.6M449.7 1083.6V1098.6" stroke="#4bacc6" stroke-width="1.6"/><path d="M495.3 1024.3L511.3 1039.3M511.3 1024.3L495.3 1039.3M503.3 1024.3V1039.3" stroke="#4bacc6" stroke-width="1.6"/><path d="M549.0 1019.0L565.0 1034.0M565.0 1019.0L549.0 1034.0M557.0 1019.0V1034.0" stroke="#4bacc6" stroke-width="1.6"/><path d="M618.3 1124.9H659.4" stroke="#4f81bd" stroke-width="4.2" stroke-linecap="round"/><path d="M638.8 1116.9L646.3 1124.9L638.8 1132.9L631.3 1124.9Z" fill="#4f81bd"/><text x="664" y="1133.3" font-family="Liberation Sans, Arial, sans-serif" font-size="25">EV71</text><path d="M618.3 1165.1H659.4" stroke="#c0504d" stroke-width="4.2" stroke-linecap="round"/><rect x="630.8" y="1157.1" width="16" height="16" fill="#c0504d"/><text x="664" y="1173.3" font-family="Liberation Sans, Arial, sans-serif" font-size="25">CA16</text><path d="M618.3 1205.8H659.4" stroke="#9bbb59" stroke-width="4.2" stroke-linecap="round"/><path d="M638.8 1197.3L647.0999999999999 1213.8L630.5 1213.8Z" fill="#9bbb59"/><text x="664" y="1213.2" font-family="Liberation Sans, Arial, sans-serif" font-size="25">CB3</text><path d="M618.3 1246.5H659.4" stroke="#8064a2" stroke-width="4.2" stroke-linecap="round"/><path d="M630.8 1239.0L646.8 1254.0M646.8 1239.0L630.8 1254.0" stroke="#8064a2" stroke-width="1.6"/><text x="664" y="1254.7" font-family="Liberation Sans, Arial, sans-serif" font-size="25">PV1</text><path d="M618.3 1287.2H659.4" stroke="#4bacc6" stroke-width="4.2" stroke-linecap="round"/><path d="M630.8 1279.7L646.8 1294.7M646.8 1279.7L630.8 1294.7M638.8 1279.7V1294.7" stroke="#4bacc6" stroke-width="1.6"/><text x="664" y="1295.4" font-family="Liberation Sans, Arial, sans-serif" font-size="25">RV13</text></g>
</svg></body></html>
